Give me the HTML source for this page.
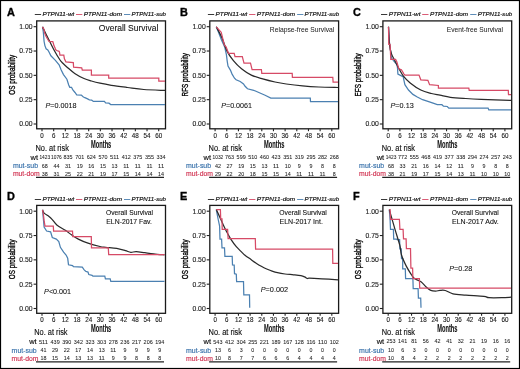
<!DOCTYPE html>
<html><head><meta charset="utf-8"><style>html,body{margin:0;padding:0;background:#fff;width:520px;height:369px;overflow:hidden}svg{display:block;will-change:transform}</style></head>
<body><svg width="520" height="369" viewBox="0 0 520 369" font-family='"Liberation Sans", sans-serif'><rect x="0.5" y="0.5" width="519" height="368" fill="none" stroke="#000" stroke-width="1.2"/>
<text x="6.90" y="15.60" font-size="10.90" fill="#000" font-weight="bold" font-style="normal" text-anchor="start" stroke="#000" stroke-width="0.35">A</text>
<line x1="34.80" y1="14.50" x2="41.10" y2="14.50" stroke="#222" stroke-width="0.9"/>
<text x="42.50" y="16.40" font-size="6.10" fill="#111" font-weight="normal" font-style="italic" text-anchor="start" textLength="31.70" lengthAdjust="spacingAndGlyphs" stroke="#111" stroke-width="0.18">PTPN11-wt</text>
<line x1="76.00" y1="14.50" x2="82.30" y2="14.50" stroke="#d64a66" stroke-width="0.9"/>
<text x="83.70" y="16.40" font-size="6.10" fill="#111" font-weight="normal" font-style="italic" text-anchor="start" textLength="38.30" lengthAdjust="spacingAndGlyphs" stroke="#111" stroke-width="0.18">PTPN11-dom</text>
<line x1="124.00" y1="14.50" x2="130.30" y2="14.50" stroke="#4b80b1" stroke-width="0.9"/>
<text x="131.50" y="16.40" font-size="6.10" fill="#111" font-weight="normal" font-style="italic" text-anchor="start" textLength="34.50" lengthAdjust="spacingAndGlyphs" stroke="#111" stroke-width="0.18">PTPN11-sub</text>
<rect x="36.70" y="20.90" width="128.80" height="107.90" fill="none" stroke="#1a1a1a" stroke-width="1.3"/>
<line x1="33.60" y1="26.70" x2="36.70" y2="26.70" stroke="#222" stroke-width="1.1"/>
<text x="19.30" y="29.05" font-size="6.70" fill="#1a1a1a" font-weight="normal" font-style="normal" text-anchor="start" textLength="13.30" lengthAdjust="spacingAndGlyphs" stroke="#1a1a1a" stroke-width="0.12">1.00</text>
<line x1="33.60" y1="51.02" x2="36.70" y2="51.02" stroke="#222" stroke-width="1.1"/>
<text x="19.30" y="53.38" font-size="6.70" fill="#1a1a1a" font-weight="normal" font-style="normal" text-anchor="start" textLength="13.30" lengthAdjust="spacingAndGlyphs" stroke="#1a1a1a" stroke-width="0.12">0.75</text>
<line x1="33.60" y1="75.35" x2="36.70" y2="75.35" stroke="#222" stroke-width="1.1"/>
<text x="19.30" y="77.70" font-size="6.70" fill="#1a1a1a" font-weight="normal" font-style="normal" text-anchor="start" textLength="13.30" lengthAdjust="spacingAndGlyphs" stroke="#1a1a1a" stroke-width="0.12">0.50</text>
<line x1="33.60" y1="99.67" x2="36.70" y2="99.67" stroke="#222" stroke-width="1.1"/>
<text x="19.30" y="102.02" font-size="6.70" fill="#1a1a1a" font-weight="normal" font-style="normal" text-anchor="start" textLength="13.30" lengthAdjust="spacingAndGlyphs" stroke="#1a1a1a" stroke-width="0.12">0.25</text>
<line x1="33.60" y1="124.00" x2="36.70" y2="124.00" stroke="#222" stroke-width="1.1"/>
<text x="19.30" y="126.35" font-size="6.70" fill="#1a1a1a" font-weight="normal" font-style="normal" text-anchor="start" textLength="13.30" lengthAdjust="spacingAndGlyphs" stroke="#1a1a1a" stroke-width="0.12">0.00</text>
<line x1="42.00" y1="128.80" x2="42.00" y2="131.20" stroke="#222" stroke-width="1.1"/>
<text x="40.27" y="137.80" font-size="6.70" fill="#1a1a1a" font-weight="normal" font-style="normal" text-anchor="start" textLength="3.45" lengthAdjust="spacingAndGlyphs" stroke="#1a1a1a" stroke-width="0.12">0</text>
<line x1="53.67" y1="128.80" x2="53.67" y2="131.20" stroke="#222" stroke-width="1.1"/>
<text x="51.95" y="137.80" font-size="6.70" fill="#1a1a1a" font-weight="normal" font-style="normal" text-anchor="start" textLength="3.45" lengthAdjust="spacingAndGlyphs" stroke="#1a1a1a" stroke-width="0.12">6</text>
<line x1="65.34" y1="128.80" x2="65.34" y2="131.20" stroke="#222" stroke-width="1.1"/>
<text x="61.84" y="137.80" font-size="6.70" fill="#1a1a1a" font-weight="normal" font-style="normal" text-anchor="start" textLength="7.00" lengthAdjust="spacingAndGlyphs" stroke="#1a1a1a" stroke-width="0.12">12</text>
<line x1="77.01" y1="128.80" x2="77.01" y2="131.20" stroke="#222" stroke-width="1.1"/>
<text x="73.51" y="137.80" font-size="6.70" fill="#1a1a1a" font-weight="normal" font-style="normal" text-anchor="start" textLength="7.00" lengthAdjust="spacingAndGlyphs" stroke="#1a1a1a" stroke-width="0.12">18</text>
<line x1="88.68" y1="128.80" x2="88.68" y2="131.20" stroke="#222" stroke-width="1.1"/>
<text x="85.18" y="137.80" font-size="6.70" fill="#1a1a1a" font-weight="normal" font-style="normal" text-anchor="start" textLength="7.00" lengthAdjust="spacingAndGlyphs" stroke="#1a1a1a" stroke-width="0.12">24</text>
<line x1="100.35" y1="128.80" x2="100.35" y2="131.20" stroke="#222" stroke-width="1.1"/>
<text x="96.85" y="137.80" font-size="6.70" fill="#1a1a1a" font-weight="normal" font-style="normal" text-anchor="start" textLength="7.00" lengthAdjust="spacingAndGlyphs" stroke="#1a1a1a" stroke-width="0.12">30</text>
<line x1="112.02" y1="128.80" x2="112.02" y2="131.20" stroke="#222" stroke-width="1.1"/>
<text x="108.52" y="137.80" font-size="6.70" fill="#1a1a1a" font-weight="normal" font-style="normal" text-anchor="start" textLength="7.00" lengthAdjust="spacingAndGlyphs" stroke="#1a1a1a" stroke-width="0.12">36</text>
<line x1="123.69" y1="128.80" x2="123.69" y2="131.20" stroke="#222" stroke-width="1.1"/>
<text x="120.19" y="137.80" font-size="6.70" fill="#1a1a1a" font-weight="normal" font-style="normal" text-anchor="start" textLength="7.00" lengthAdjust="spacingAndGlyphs" stroke="#1a1a1a" stroke-width="0.12">42</text>
<line x1="135.36" y1="128.80" x2="135.36" y2="131.20" stroke="#222" stroke-width="1.1"/>
<text x="131.86" y="137.80" font-size="6.70" fill="#1a1a1a" font-weight="normal" font-style="normal" text-anchor="start" textLength="7.00" lengthAdjust="spacingAndGlyphs" stroke="#1a1a1a" stroke-width="0.12">48</text>
<line x1="147.03" y1="128.80" x2="147.03" y2="131.20" stroke="#222" stroke-width="1.1"/>
<text x="143.53" y="137.80" font-size="6.70" fill="#1a1a1a" font-weight="normal" font-style="normal" text-anchor="start" textLength="7.00" lengthAdjust="spacingAndGlyphs" stroke="#1a1a1a" stroke-width="0.12">54</text>
<line x1="158.70" y1="128.80" x2="158.70" y2="131.20" stroke="#222" stroke-width="1.1"/>
<text x="155.20" y="137.80" font-size="6.70" fill="#1a1a1a" font-weight="normal" font-style="normal" text-anchor="start" textLength="7.00" lengthAdjust="spacingAndGlyphs" stroke="#1a1a1a" stroke-width="0.12">60</text>
<text x="91.00" y="147.50" font-size="10.40" fill="#111" font-weight="bold" font-style="normal" text-anchor="start" textLength="20.30" lengthAdjust="spacingAndGlyphs" stroke="#111" stroke-width="0.1">Months</text>
<text transform="translate(14.90,94.70) rotate(-90)" x="0" y="0" font-size="9.4" fill="#000" stroke="#000" stroke-width="0.36" textLength="39.80" lengthAdjust="spacingAndGlyphs">OS probability</text>
<text x="35.50" y="150.60" font-size="8.30" fill="#111" font-weight="normal" font-style="normal" text-anchor="start" textLength="33.40" lengthAdjust="spacingAndGlyphs" stroke="#111" stroke-width="0.14">No. at risk</text>
<text x="30.50" y="159.80" font-size="7.00" fill="#111" font-weight="normal" font-style="normal" text-anchor="start" textLength="7.50" lengthAdjust="spacingAndGlyphs" stroke="#111" stroke-width="0.14">wt</text>
<text x="12.90" y="168.00" font-size="7.10" fill="#356fa9" font-weight="normal" font-style="normal" text-anchor="start" textLength="25.10" lengthAdjust="spacingAndGlyphs" stroke="#356fa9" stroke-width="0.15">mut-sub</text>
<text x="12.90" y="176.00" font-size="7.10" fill="#d0304f" font-weight="normal" font-style="normal" text-anchor="start" textLength="26.90" lengthAdjust="spacingAndGlyphs" stroke="#d0304f" stroke-width="0.15">mut-dom</text>
<line x1="36.00" y1="177.40" x2="164.00" y2="177.40" stroke="#222" stroke-width="1.2"/>
<text x="39.45" y="159.40" font-size="5.30" fill="#222" font-weight="normal" font-style="normal" text-anchor="start" textLength="10.70" lengthAdjust="spacingAndGlyphs" stroke="#222" stroke-width="0.06">1423</text>
<text x="51.08" y="159.40" font-size="5.30" fill="#222" font-weight="normal" font-style="normal" text-anchor="start" textLength="10.70" lengthAdjust="spacingAndGlyphs" stroke="#222" stroke-width="0.06">1076</text>
<text x="63.54" y="159.40" font-size="5.30" fill="#222" font-weight="normal" font-style="normal" text-anchor="start" textLength="9.05" lengthAdjust="spacingAndGlyphs" stroke="#222" stroke-width="0.06">835</text>
<text x="75.16" y="159.40" font-size="5.30" fill="#222" font-weight="normal" font-style="normal" text-anchor="start" textLength="9.05" lengthAdjust="spacingAndGlyphs" stroke="#222" stroke-width="0.06">701</text>
<text x="86.79" y="159.40" font-size="5.30" fill="#222" font-weight="normal" font-style="normal" text-anchor="start" textLength="9.05" lengthAdjust="spacingAndGlyphs" stroke="#222" stroke-width="0.06">624</text>
<text x="98.42" y="159.40" font-size="5.30" fill="#222" font-weight="normal" font-style="normal" text-anchor="start" textLength="9.05" lengthAdjust="spacingAndGlyphs" stroke="#222" stroke-width="0.06">570</text>
<text x="110.05" y="159.40" font-size="5.30" fill="#222" font-weight="normal" font-style="normal" text-anchor="start" textLength="9.05" lengthAdjust="spacingAndGlyphs" stroke="#222" stroke-width="0.06">511</text>
<text x="121.69" y="159.40" font-size="5.30" fill="#222" font-weight="normal" font-style="normal" text-anchor="start" textLength="9.05" lengthAdjust="spacingAndGlyphs" stroke="#222" stroke-width="0.06">412</text>
<text x="133.31" y="159.40" font-size="5.30" fill="#222" font-weight="normal" font-style="normal" text-anchor="start" textLength="9.05" lengthAdjust="spacingAndGlyphs" stroke="#222" stroke-width="0.06">375</text>
<text x="144.94" y="159.40" font-size="5.30" fill="#222" font-weight="normal" font-style="normal" text-anchor="start" textLength="9.05" lengthAdjust="spacingAndGlyphs" stroke="#222" stroke-width="0.06">355</text>
<text x="156.58" y="159.40" font-size="5.30" fill="#222" font-weight="normal" font-style="normal" text-anchor="start" textLength="9.05" lengthAdjust="spacingAndGlyphs" stroke="#222" stroke-width="0.06">334</text>
<text x="41.80" y="167.90" font-size="5.30" fill="#222" font-weight="normal" font-style="normal" text-anchor="start" textLength="6.00" lengthAdjust="spacingAndGlyphs" stroke="#222" stroke-width="0.06">68</text>
<text x="53.43" y="167.90" font-size="5.30" fill="#222" font-weight="normal" font-style="normal" text-anchor="start" textLength="6.00" lengthAdjust="spacingAndGlyphs" stroke="#222" stroke-width="0.06">44</text>
<text x="65.06" y="167.90" font-size="5.30" fill="#222" font-weight="normal" font-style="normal" text-anchor="start" textLength="6.00" lengthAdjust="spacingAndGlyphs" stroke="#222" stroke-width="0.06">31</text>
<text x="76.69" y="167.90" font-size="5.30" fill="#222" font-weight="normal" font-style="normal" text-anchor="start" textLength="6.00" lengthAdjust="spacingAndGlyphs" stroke="#222" stroke-width="0.06">19</text>
<text x="88.32" y="167.90" font-size="5.30" fill="#222" font-weight="normal" font-style="normal" text-anchor="start" textLength="6.00" lengthAdjust="spacingAndGlyphs" stroke="#222" stroke-width="0.06">16</text>
<text x="99.95" y="167.90" font-size="5.30" fill="#222" font-weight="normal" font-style="normal" text-anchor="start" textLength="6.00" lengthAdjust="spacingAndGlyphs" stroke="#222" stroke-width="0.06">15</text>
<text x="111.58" y="167.90" font-size="5.30" fill="#222" font-weight="normal" font-style="normal" text-anchor="start" textLength="6.00" lengthAdjust="spacingAndGlyphs" stroke="#222" stroke-width="0.06">13</text>
<text x="123.21" y="167.90" font-size="5.30" fill="#222" font-weight="normal" font-style="normal" text-anchor="start" textLength="6.00" lengthAdjust="spacingAndGlyphs" stroke="#222" stroke-width="0.06">11</text>
<text x="134.84" y="167.90" font-size="5.30" fill="#222" font-weight="normal" font-style="normal" text-anchor="start" textLength="6.00" lengthAdjust="spacingAndGlyphs" stroke="#222" stroke-width="0.06">11</text>
<text x="146.47" y="167.90" font-size="5.30" fill="#222" font-weight="normal" font-style="normal" text-anchor="start" textLength="6.00" lengthAdjust="spacingAndGlyphs" stroke="#222" stroke-width="0.06">11</text>
<text x="158.10" y="167.90" font-size="5.30" fill="#222" font-weight="normal" font-style="normal" text-anchor="start" textLength="6.00" lengthAdjust="spacingAndGlyphs" stroke="#222" stroke-width="0.06">11</text>
<text x="41.80" y="175.70" font-size="5.30" fill="#222" font-weight="normal" font-style="normal" text-anchor="start" textLength="6.00" lengthAdjust="spacingAndGlyphs" stroke="#222" stroke-width="0.06">38</text>
<text x="53.43" y="175.70" font-size="5.30" fill="#222" font-weight="normal" font-style="normal" text-anchor="start" textLength="6.00" lengthAdjust="spacingAndGlyphs" stroke="#222" stroke-width="0.06">31</text>
<text x="65.06" y="175.70" font-size="5.30" fill="#222" font-weight="normal" font-style="normal" text-anchor="start" textLength="6.00" lengthAdjust="spacingAndGlyphs" stroke="#222" stroke-width="0.06">25</text>
<text x="76.69" y="175.70" font-size="5.30" fill="#222" font-weight="normal" font-style="normal" text-anchor="start" textLength="6.00" lengthAdjust="spacingAndGlyphs" stroke="#222" stroke-width="0.06">22</text>
<text x="88.32" y="175.70" font-size="5.30" fill="#222" font-weight="normal" font-style="normal" text-anchor="start" textLength="6.00" lengthAdjust="spacingAndGlyphs" stroke="#222" stroke-width="0.06">21</text>
<text x="99.95" y="175.70" font-size="5.30" fill="#222" font-weight="normal" font-style="normal" text-anchor="start" textLength="6.00" lengthAdjust="spacingAndGlyphs" stroke="#222" stroke-width="0.06">19</text>
<text x="111.58" y="175.70" font-size="5.30" fill="#222" font-weight="normal" font-style="normal" text-anchor="start" textLength="6.00" lengthAdjust="spacingAndGlyphs" stroke="#222" stroke-width="0.06">17</text>
<text x="123.21" y="175.70" font-size="5.30" fill="#222" font-weight="normal" font-style="normal" text-anchor="start" textLength="6.00" lengthAdjust="spacingAndGlyphs" stroke="#222" stroke-width="0.06">15</text>
<text x="134.84" y="175.70" font-size="5.30" fill="#222" font-weight="normal" font-style="normal" text-anchor="start" textLength="6.00" lengthAdjust="spacingAndGlyphs" stroke="#222" stroke-width="0.06">14</text>
<text x="146.47" y="175.70" font-size="5.30" fill="#222" font-weight="normal" font-style="normal" text-anchor="start" textLength="6.00" lengthAdjust="spacingAndGlyphs" stroke="#222" stroke-width="0.06">14</text>
<text x="158.10" y="175.70" font-size="5.30" fill="#222" font-weight="normal" font-style="normal" text-anchor="start" textLength="6.00" lengthAdjust="spacingAndGlyphs" stroke="#222" stroke-width="0.06">14</text>
<text x="180.00" y="15.60" font-size="10.90" fill="#000" font-weight="bold" font-style="normal" text-anchor="start" stroke="#000" stroke-width="0.35">B</text>
<line x1="207.90" y1="14.50" x2="214.20" y2="14.50" stroke="#222" stroke-width="0.9"/>
<text x="215.60" y="16.40" font-size="6.10" fill="#111" font-weight="normal" font-style="italic" text-anchor="start" textLength="31.70" lengthAdjust="spacingAndGlyphs" stroke="#111" stroke-width="0.18">PTPN11-wt</text>
<line x1="249.10" y1="14.50" x2="255.40" y2="14.50" stroke="#d64a66" stroke-width="0.9"/>
<text x="256.80" y="16.40" font-size="6.10" fill="#111" font-weight="normal" font-style="italic" text-anchor="start" textLength="38.30" lengthAdjust="spacingAndGlyphs" stroke="#111" stroke-width="0.18">PTPN11-dom</text>
<line x1="297.10" y1="14.50" x2="303.40" y2="14.50" stroke="#4b80b1" stroke-width="0.9"/>
<text x="304.60" y="16.40" font-size="6.10" fill="#111" font-weight="normal" font-style="italic" text-anchor="start" textLength="34.50" lengthAdjust="spacingAndGlyphs" stroke="#111" stroke-width="0.18">PTPN11-sub</text>
<rect x="209.80" y="20.90" width="128.80" height="107.90" fill="none" stroke="#1a1a1a" stroke-width="1.3"/>
<line x1="206.70" y1="26.70" x2="209.80" y2="26.70" stroke="#222" stroke-width="1.1"/>
<text x="192.40" y="29.05" font-size="6.70" fill="#1a1a1a" font-weight="normal" font-style="normal" text-anchor="start" textLength="13.30" lengthAdjust="spacingAndGlyphs" stroke="#1a1a1a" stroke-width="0.12">1.00</text>
<line x1="206.70" y1="51.02" x2="209.80" y2="51.02" stroke="#222" stroke-width="1.1"/>
<text x="192.40" y="53.38" font-size="6.70" fill="#1a1a1a" font-weight="normal" font-style="normal" text-anchor="start" textLength="13.30" lengthAdjust="spacingAndGlyphs" stroke="#1a1a1a" stroke-width="0.12">0.75</text>
<line x1="206.70" y1="75.35" x2="209.80" y2="75.35" stroke="#222" stroke-width="1.1"/>
<text x="192.40" y="77.70" font-size="6.70" fill="#1a1a1a" font-weight="normal" font-style="normal" text-anchor="start" textLength="13.30" lengthAdjust="spacingAndGlyphs" stroke="#1a1a1a" stroke-width="0.12">0.50</text>
<line x1="206.70" y1="99.67" x2="209.80" y2="99.67" stroke="#222" stroke-width="1.1"/>
<text x="192.40" y="102.02" font-size="6.70" fill="#1a1a1a" font-weight="normal" font-style="normal" text-anchor="start" textLength="13.30" lengthAdjust="spacingAndGlyphs" stroke="#1a1a1a" stroke-width="0.12">0.25</text>
<line x1="206.70" y1="124.00" x2="209.80" y2="124.00" stroke="#222" stroke-width="1.1"/>
<text x="192.40" y="126.35" font-size="6.70" fill="#1a1a1a" font-weight="normal" font-style="normal" text-anchor="start" textLength="13.30" lengthAdjust="spacingAndGlyphs" stroke="#1a1a1a" stroke-width="0.12">0.00</text>
<line x1="215.10" y1="128.80" x2="215.10" y2="131.20" stroke="#222" stroke-width="1.1"/>
<text x="213.38" y="137.80" font-size="6.70" fill="#1a1a1a" font-weight="normal" font-style="normal" text-anchor="start" textLength="3.45" lengthAdjust="spacingAndGlyphs" stroke="#1a1a1a" stroke-width="0.12">0</text>
<line x1="226.77" y1="128.80" x2="226.77" y2="131.20" stroke="#222" stroke-width="1.1"/>
<text x="225.04" y="137.80" font-size="6.70" fill="#1a1a1a" font-weight="normal" font-style="normal" text-anchor="start" textLength="3.45" lengthAdjust="spacingAndGlyphs" stroke="#1a1a1a" stroke-width="0.12">6</text>
<line x1="238.44" y1="128.80" x2="238.44" y2="131.20" stroke="#222" stroke-width="1.1"/>
<text x="234.94" y="137.80" font-size="6.70" fill="#1a1a1a" font-weight="normal" font-style="normal" text-anchor="start" textLength="7.00" lengthAdjust="spacingAndGlyphs" stroke="#1a1a1a" stroke-width="0.12">12</text>
<line x1="250.11" y1="128.80" x2="250.11" y2="131.20" stroke="#222" stroke-width="1.1"/>
<text x="246.61" y="137.80" font-size="6.70" fill="#1a1a1a" font-weight="normal" font-style="normal" text-anchor="start" textLength="7.00" lengthAdjust="spacingAndGlyphs" stroke="#1a1a1a" stroke-width="0.12">18</text>
<line x1="261.78" y1="128.80" x2="261.78" y2="131.20" stroke="#222" stroke-width="1.1"/>
<text x="258.28" y="137.80" font-size="6.70" fill="#1a1a1a" font-weight="normal" font-style="normal" text-anchor="start" textLength="7.00" lengthAdjust="spacingAndGlyphs" stroke="#1a1a1a" stroke-width="0.12">24</text>
<line x1="273.45" y1="128.80" x2="273.45" y2="131.20" stroke="#222" stroke-width="1.1"/>
<text x="269.95" y="137.80" font-size="6.70" fill="#1a1a1a" font-weight="normal" font-style="normal" text-anchor="start" textLength="7.00" lengthAdjust="spacingAndGlyphs" stroke="#1a1a1a" stroke-width="0.12">30</text>
<line x1="285.12" y1="128.80" x2="285.12" y2="131.20" stroke="#222" stroke-width="1.1"/>
<text x="281.62" y="137.80" font-size="6.70" fill="#1a1a1a" font-weight="normal" font-style="normal" text-anchor="start" textLength="7.00" lengthAdjust="spacingAndGlyphs" stroke="#1a1a1a" stroke-width="0.12">36</text>
<line x1="296.79" y1="128.80" x2="296.79" y2="131.20" stroke="#222" stroke-width="1.1"/>
<text x="293.29" y="137.80" font-size="6.70" fill="#1a1a1a" font-weight="normal" font-style="normal" text-anchor="start" textLength="7.00" lengthAdjust="spacingAndGlyphs" stroke="#1a1a1a" stroke-width="0.12">42</text>
<line x1="308.46" y1="128.80" x2="308.46" y2="131.20" stroke="#222" stroke-width="1.1"/>
<text x="304.96" y="137.80" font-size="6.70" fill="#1a1a1a" font-weight="normal" font-style="normal" text-anchor="start" textLength="7.00" lengthAdjust="spacingAndGlyphs" stroke="#1a1a1a" stroke-width="0.12">48</text>
<line x1="320.13" y1="128.80" x2="320.13" y2="131.20" stroke="#222" stroke-width="1.1"/>
<text x="316.63" y="137.80" font-size="6.70" fill="#1a1a1a" font-weight="normal" font-style="normal" text-anchor="start" textLength="7.00" lengthAdjust="spacingAndGlyphs" stroke="#1a1a1a" stroke-width="0.12">54</text>
<line x1="331.80" y1="128.80" x2="331.80" y2="131.20" stroke="#222" stroke-width="1.1"/>
<text x="328.30" y="137.80" font-size="6.70" fill="#1a1a1a" font-weight="normal" font-style="normal" text-anchor="start" textLength="7.00" lengthAdjust="spacingAndGlyphs" stroke="#1a1a1a" stroke-width="0.12">60</text>
<text x="264.10" y="147.50" font-size="10.40" fill="#111" font-weight="bold" font-style="normal" text-anchor="start" textLength="20.30" lengthAdjust="spacingAndGlyphs" stroke="#111" stroke-width="0.1">Months</text>
<text transform="translate(188.00,96.40) rotate(-90)" x="0" y="0" font-size="9.4" fill="#000" stroke="#000" stroke-width="0.36" textLength="43.20" lengthAdjust="spacingAndGlyphs">RFS probability</text>
<text x="208.60" y="150.60" font-size="8.30" fill="#111" font-weight="normal" font-style="normal" text-anchor="start" textLength="33.40" lengthAdjust="spacingAndGlyphs" stroke="#111" stroke-width="0.14">No. at risk</text>
<text x="203.60" y="159.80" font-size="7.00" fill="#111" font-weight="normal" font-style="normal" text-anchor="start" textLength="7.50" lengthAdjust="spacingAndGlyphs" stroke="#111" stroke-width="0.14">wt</text>
<text x="186.00" y="168.00" font-size="7.10" fill="#356fa9" font-weight="normal" font-style="normal" text-anchor="start" textLength="25.10" lengthAdjust="spacingAndGlyphs" stroke="#356fa9" stroke-width="0.15">mut-sub</text>
<text x="186.00" y="176.00" font-size="7.10" fill="#d0304f" font-weight="normal" font-style="normal" text-anchor="start" textLength="26.90" lengthAdjust="spacingAndGlyphs" stroke="#d0304f" stroke-width="0.15">mut-dom</text>
<line x1="209.10" y1="177.40" x2="337.10" y2="177.40" stroke="#222" stroke-width="1.2"/>
<text x="212.55" y="159.40" font-size="5.30" fill="#222" font-weight="normal" font-style="normal" text-anchor="start" textLength="10.70" lengthAdjust="spacingAndGlyphs" stroke="#222" stroke-width="0.06">1032</text>
<text x="225.00" y="159.40" font-size="5.30" fill="#222" font-weight="normal" font-style="normal" text-anchor="start" textLength="9.05" lengthAdjust="spacingAndGlyphs" stroke="#222" stroke-width="0.06">763</text>
<text x="236.63" y="159.40" font-size="5.30" fill="#222" font-weight="normal" font-style="normal" text-anchor="start" textLength="9.05" lengthAdjust="spacingAndGlyphs" stroke="#222" stroke-width="0.06">599</text>
<text x="248.26" y="159.40" font-size="5.30" fill="#222" font-weight="normal" font-style="normal" text-anchor="start" textLength="9.05" lengthAdjust="spacingAndGlyphs" stroke="#222" stroke-width="0.06">510</text>
<text x="259.89" y="159.40" font-size="5.30" fill="#222" font-weight="normal" font-style="normal" text-anchor="start" textLength="9.05" lengthAdjust="spacingAndGlyphs" stroke="#222" stroke-width="0.06">460</text>
<text x="271.53" y="159.40" font-size="5.30" fill="#222" font-weight="normal" font-style="normal" text-anchor="start" textLength="9.05" lengthAdjust="spacingAndGlyphs" stroke="#222" stroke-width="0.06">423</text>
<text x="283.16" y="159.40" font-size="5.30" fill="#222" font-weight="normal" font-style="normal" text-anchor="start" textLength="9.05" lengthAdjust="spacingAndGlyphs" stroke="#222" stroke-width="0.06">351</text>
<text x="294.79" y="159.40" font-size="5.30" fill="#222" font-weight="normal" font-style="normal" text-anchor="start" textLength="9.05" lengthAdjust="spacingAndGlyphs" stroke="#222" stroke-width="0.06">319</text>
<text x="306.42" y="159.40" font-size="5.30" fill="#222" font-weight="normal" font-style="normal" text-anchor="start" textLength="9.05" lengthAdjust="spacingAndGlyphs" stroke="#222" stroke-width="0.06">295</text>
<text x="318.05" y="159.40" font-size="5.30" fill="#222" font-weight="normal" font-style="normal" text-anchor="start" textLength="9.05" lengthAdjust="spacingAndGlyphs" stroke="#222" stroke-width="0.06">282</text>
<text x="329.68" y="159.40" font-size="5.30" fill="#222" font-weight="normal" font-style="normal" text-anchor="start" textLength="9.05" lengthAdjust="spacingAndGlyphs" stroke="#222" stroke-width="0.06">268</text>
<text x="214.90" y="167.90" font-size="5.30" fill="#222" font-weight="normal" font-style="normal" text-anchor="start" textLength="6.00" lengthAdjust="spacingAndGlyphs" stroke="#222" stroke-width="0.06">42</text>
<text x="226.53" y="167.90" font-size="5.30" fill="#222" font-weight="normal" font-style="normal" text-anchor="start" textLength="6.00" lengthAdjust="spacingAndGlyphs" stroke="#222" stroke-width="0.06">27</text>
<text x="238.16" y="167.90" font-size="5.30" fill="#222" font-weight="normal" font-style="normal" text-anchor="start" textLength="6.00" lengthAdjust="spacingAndGlyphs" stroke="#222" stroke-width="0.06">19</text>
<text x="249.79" y="167.90" font-size="5.30" fill="#222" font-weight="normal" font-style="normal" text-anchor="start" textLength="6.00" lengthAdjust="spacingAndGlyphs" stroke="#222" stroke-width="0.06">15</text>
<text x="261.42" y="167.90" font-size="5.30" fill="#222" font-weight="normal" font-style="normal" text-anchor="start" textLength="6.00" lengthAdjust="spacingAndGlyphs" stroke="#222" stroke-width="0.06">13</text>
<text x="273.05" y="167.90" font-size="5.30" fill="#222" font-weight="normal" font-style="normal" text-anchor="start" textLength="6.00" lengthAdjust="spacingAndGlyphs" stroke="#222" stroke-width="0.06">11</text>
<text x="284.68" y="167.90" font-size="5.30" fill="#222" font-weight="normal" font-style="normal" text-anchor="start" textLength="6.00" lengthAdjust="spacingAndGlyphs" stroke="#222" stroke-width="0.06">10</text>
<text x="297.83" y="167.90" font-size="5.30" fill="#222" font-weight="normal" font-style="normal" text-anchor="start" textLength="2.95" lengthAdjust="spacingAndGlyphs" stroke="#222" stroke-width="0.06">9</text>
<text x="309.46" y="167.90" font-size="5.30" fill="#222" font-weight="normal" font-style="normal" text-anchor="start" textLength="2.95" lengthAdjust="spacingAndGlyphs" stroke="#222" stroke-width="0.06">9</text>
<text x="321.09" y="167.90" font-size="5.30" fill="#222" font-weight="normal" font-style="normal" text-anchor="start" textLength="2.95" lengthAdjust="spacingAndGlyphs" stroke="#222" stroke-width="0.06">8</text>
<text x="332.73" y="167.90" font-size="5.30" fill="#222" font-weight="normal" font-style="normal" text-anchor="start" textLength="2.95" lengthAdjust="spacingAndGlyphs" stroke="#222" stroke-width="0.06">8</text>
<text x="214.90" y="175.70" font-size="5.30" fill="#222" font-weight="normal" font-style="normal" text-anchor="start" textLength="6.00" lengthAdjust="spacingAndGlyphs" stroke="#222" stroke-width="0.06">29</text>
<text x="226.53" y="175.70" font-size="5.30" fill="#222" font-weight="normal" font-style="normal" text-anchor="start" textLength="6.00" lengthAdjust="spacingAndGlyphs" stroke="#222" stroke-width="0.06">22</text>
<text x="238.16" y="175.70" font-size="5.30" fill="#222" font-weight="normal" font-style="normal" text-anchor="start" textLength="6.00" lengthAdjust="spacingAndGlyphs" stroke="#222" stroke-width="0.06">20</text>
<text x="249.79" y="175.70" font-size="5.30" fill="#222" font-weight="normal" font-style="normal" text-anchor="start" textLength="6.00" lengthAdjust="spacingAndGlyphs" stroke="#222" stroke-width="0.06">18</text>
<text x="261.42" y="175.70" font-size="5.30" fill="#222" font-weight="normal" font-style="normal" text-anchor="start" textLength="6.00" lengthAdjust="spacingAndGlyphs" stroke="#222" stroke-width="0.06">15</text>
<text x="273.05" y="175.70" font-size="5.30" fill="#222" font-weight="normal" font-style="normal" text-anchor="start" textLength="6.00" lengthAdjust="spacingAndGlyphs" stroke="#222" stroke-width="0.06">15</text>
<text x="284.68" y="175.70" font-size="5.30" fill="#222" font-weight="normal" font-style="normal" text-anchor="start" textLength="6.00" lengthAdjust="spacingAndGlyphs" stroke="#222" stroke-width="0.06">14</text>
<text x="296.31" y="175.70" font-size="5.30" fill="#222" font-weight="normal" font-style="normal" text-anchor="start" textLength="6.00" lengthAdjust="spacingAndGlyphs" stroke="#222" stroke-width="0.06">11</text>
<text x="307.94" y="175.70" font-size="5.30" fill="#222" font-weight="normal" font-style="normal" text-anchor="start" textLength="6.00" lengthAdjust="spacingAndGlyphs" stroke="#222" stroke-width="0.06">11</text>
<text x="319.57" y="175.70" font-size="5.30" fill="#222" font-weight="normal" font-style="normal" text-anchor="start" textLength="6.00" lengthAdjust="spacingAndGlyphs" stroke="#222" stroke-width="0.06">11</text>
<text x="332.73" y="175.70" font-size="5.30" fill="#222" font-weight="normal" font-style="normal" text-anchor="start" textLength="2.95" lengthAdjust="spacingAndGlyphs" stroke="#222" stroke-width="0.06">8</text>
<text x="353.10" y="15.60" font-size="10.90" fill="#000" font-weight="bold" font-style="normal" text-anchor="start" stroke="#000" stroke-width="0.35">C</text>
<line x1="381.00" y1="14.50" x2="387.30" y2="14.50" stroke="#222" stroke-width="0.9"/>
<text x="388.70" y="16.40" font-size="6.10" fill="#111" font-weight="normal" font-style="italic" text-anchor="start" textLength="31.70" lengthAdjust="spacingAndGlyphs" stroke="#111" stroke-width="0.18">PTPN11-wt</text>
<line x1="422.20" y1="14.50" x2="428.50" y2="14.50" stroke="#d64a66" stroke-width="0.9"/>
<text x="429.90" y="16.40" font-size="6.10" fill="#111" font-weight="normal" font-style="italic" text-anchor="start" textLength="38.30" lengthAdjust="spacingAndGlyphs" stroke="#111" stroke-width="0.18">PTPN11-dom</text>
<line x1="470.20" y1="14.50" x2="476.50" y2="14.50" stroke="#4b80b1" stroke-width="0.9"/>
<text x="477.70" y="16.40" font-size="6.10" fill="#111" font-weight="normal" font-style="italic" text-anchor="start" textLength="34.50" lengthAdjust="spacingAndGlyphs" stroke="#111" stroke-width="0.18">PTPN11-sub</text>
<rect x="382.90" y="20.90" width="128.80" height="107.90" fill="none" stroke="#1a1a1a" stroke-width="1.3"/>
<line x1="379.80" y1="26.70" x2="382.90" y2="26.70" stroke="#222" stroke-width="1.1"/>
<text x="365.50" y="29.05" font-size="6.70" fill="#1a1a1a" font-weight="normal" font-style="normal" text-anchor="start" textLength="13.30" lengthAdjust="spacingAndGlyphs" stroke="#1a1a1a" stroke-width="0.12">1.00</text>
<line x1="379.80" y1="51.02" x2="382.90" y2="51.02" stroke="#222" stroke-width="1.1"/>
<text x="365.50" y="53.38" font-size="6.70" fill="#1a1a1a" font-weight="normal" font-style="normal" text-anchor="start" textLength="13.30" lengthAdjust="spacingAndGlyphs" stroke="#1a1a1a" stroke-width="0.12">0.75</text>
<line x1="379.80" y1="75.35" x2="382.90" y2="75.35" stroke="#222" stroke-width="1.1"/>
<text x="365.50" y="77.70" font-size="6.70" fill="#1a1a1a" font-weight="normal" font-style="normal" text-anchor="start" textLength="13.30" lengthAdjust="spacingAndGlyphs" stroke="#1a1a1a" stroke-width="0.12">0.50</text>
<line x1="379.80" y1="99.67" x2="382.90" y2="99.67" stroke="#222" stroke-width="1.1"/>
<text x="365.50" y="102.02" font-size="6.70" fill="#1a1a1a" font-weight="normal" font-style="normal" text-anchor="start" textLength="13.30" lengthAdjust="spacingAndGlyphs" stroke="#1a1a1a" stroke-width="0.12">0.25</text>
<line x1="379.80" y1="124.00" x2="382.90" y2="124.00" stroke="#222" stroke-width="1.1"/>
<text x="365.50" y="126.35" font-size="6.70" fill="#1a1a1a" font-weight="normal" font-style="normal" text-anchor="start" textLength="13.30" lengthAdjust="spacingAndGlyphs" stroke="#1a1a1a" stroke-width="0.12">0.00</text>
<line x1="388.20" y1="128.80" x2="388.20" y2="131.20" stroke="#222" stroke-width="1.1"/>
<text x="386.47" y="137.80" font-size="6.70" fill="#1a1a1a" font-weight="normal" font-style="normal" text-anchor="start" textLength="3.45" lengthAdjust="spacingAndGlyphs" stroke="#1a1a1a" stroke-width="0.12">0</text>
<line x1="399.87" y1="128.80" x2="399.87" y2="131.20" stroke="#222" stroke-width="1.1"/>
<text x="398.14" y="137.80" font-size="6.70" fill="#1a1a1a" font-weight="normal" font-style="normal" text-anchor="start" textLength="3.45" lengthAdjust="spacingAndGlyphs" stroke="#1a1a1a" stroke-width="0.12">6</text>
<line x1="411.54" y1="128.80" x2="411.54" y2="131.20" stroke="#222" stroke-width="1.1"/>
<text x="408.04" y="137.80" font-size="6.70" fill="#1a1a1a" font-weight="normal" font-style="normal" text-anchor="start" textLength="7.00" lengthAdjust="spacingAndGlyphs" stroke="#1a1a1a" stroke-width="0.12">12</text>
<line x1="423.21" y1="128.80" x2="423.21" y2="131.20" stroke="#222" stroke-width="1.1"/>
<text x="419.71" y="137.80" font-size="6.70" fill="#1a1a1a" font-weight="normal" font-style="normal" text-anchor="start" textLength="7.00" lengthAdjust="spacingAndGlyphs" stroke="#1a1a1a" stroke-width="0.12">18</text>
<line x1="434.88" y1="128.80" x2="434.88" y2="131.20" stroke="#222" stroke-width="1.1"/>
<text x="431.38" y="137.80" font-size="6.70" fill="#1a1a1a" font-weight="normal" font-style="normal" text-anchor="start" textLength="7.00" lengthAdjust="spacingAndGlyphs" stroke="#1a1a1a" stroke-width="0.12">24</text>
<line x1="446.55" y1="128.80" x2="446.55" y2="131.20" stroke="#222" stroke-width="1.1"/>
<text x="443.05" y="137.80" font-size="6.70" fill="#1a1a1a" font-weight="normal" font-style="normal" text-anchor="start" textLength="7.00" lengthAdjust="spacingAndGlyphs" stroke="#1a1a1a" stroke-width="0.12">30</text>
<line x1="458.22" y1="128.80" x2="458.22" y2="131.20" stroke="#222" stroke-width="1.1"/>
<text x="454.72" y="137.80" font-size="6.70" fill="#1a1a1a" font-weight="normal" font-style="normal" text-anchor="start" textLength="7.00" lengthAdjust="spacingAndGlyphs" stroke="#1a1a1a" stroke-width="0.12">36</text>
<line x1="469.89" y1="128.80" x2="469.89" y2="131.20" stroke="#222" stroke-width="1.1"/>
<text x="466.39" y="137.80" font-size="6.70" fill="#1a1a1a" font-weight="normal" font-style="normal" text-anchor="start" textLength="7.00" lengthAdjust="spacingAndGlyphs" stroke="#1a1a1a" stroke-width="0.12">42</text>
<line x1="481.56" y1="128.80" x2="481.56" y2="131.20" stroke="#222" stroke-width="1.1"/>
<text x="478.06" y="137.80" font-size="6.70" fill="#1a1a1a" font-weight="normal" font-style="normal" text-anchor="start" textLength="7.00" lengthAdjust="spacingAndGlyphs" stroke="#1a1a1a" stroke-width="0.12">48</text>
<line x1="493.23" y1="128.80" x2="493.23" y2="131.20" stroke="#222" stroke-width="1.1"/>
<text x="489.73" y="137.80" font-size="6.70" fill="#1a1a1a" font-weight="normal" font-style="normal" text-anchor="start" textLength="7.00" lengthAdjust="spacingAndGlyphs" stroke="#1a1a1a" stroke-width="0.12">54</text>
<line x1="504.90" y1="128.80" x2="504.90" y2="131.20" stroke="#222" stroke-width="1.1"/>
<text x="501.40" y="137.80" font-size="6.70" fill="#1a1a1a" font-weight="normal" font-style="normal" text-anchor="start" textLength="7.00" lengthAdjust="spacingAndGlyphs" stroke="#1a1a1a" stroke-width="0.12">60</text>
<text x="437.20" y="147.50" font-size="10.40" fill="#111" font-weight="bold" font-style="normal" text-anchor="start" textLength="20.30" lengthAdjust="spacingAndGlyphs" stroke="#111" stroke-width="0.1">Months</text>
<text transform="translate(361.10,96.40) rotate(-90)" x="0" y="0" font-size="9.4" fill="#000" stroke="#000" stroke-width="0.36" textLength="43.20" lengthAdjust="spacingAndGlyphs">EFS probability</text>
<text x="381.70" y="150.60" font-size="8.30" fill="#111" font-weight="normal" font-style="normal" text-anchor="start" textLength="33.40" lengthAdjust="spacingAndGlyphs" stroke="#111" stroke-width="0.14">No. at risk</text>
<text x="376.70" y="159.80" font-size="7.00" fill="#111" font-weight="normal" font-style="normal" text-anchor="start" textLength="7.50" lengthAdjust="spacingAndGlyphs" stroke="#111" stroke-width="0.14">wt</text>
<text x="359.10" y="168.00" font-size="7.10" fill="#356fa9" font-weight="normal" font-style="normal" text-anchor="start" textLength="25.10" lengthAdjust="spacingAndGlyphs" stroke="#356fa9" stroke-width="0.15">mut-sub</text>
<text x="359.10" y="176.00" font-size="7.10" fill="#d0304f" font-weight="normal" font-style="normal" text-anchor="start" textLength="26.90" lengthAdjust="spacingAndGlyphs" stroke="#d0304f" stroke-width="0.15">mut-dom</text>
<line x1="382.20" y1="177.40" x2="510.20" y2="177.40" stroke="#222" stroke-width="1.2"/>
<text x="385.65" y="159.40" font-size="5.30" fill="#222" font-weight="normal" font-style="normal" text-anchor="start" textLength="10.70" lengthAdjust="spacingAndGlyphs" stroke="#222" stroke-width="0.06">1423</text>
<text x="398.11" y="159.40" font-size="5.30" fill="#222" font-weight="normal" font-style="normal" text-anchor="start" textLength="9.05" lengthAdjust="spacingAndGlyphs" stroke="#222" stroke-width="0.06">772</text>
<text x="409.74" y="159.40" font-size="5.30" fill="#222" font-weight="normal" font-style="normal" text-anchor="start" textLength="9.05" lengthAdjust="spacingAndGlyphs" stroke="#222" stroke-width="0.06">555</text>
<text x="421.37" y="159.40" font-size="5.30" fill="#222" font-weight="normal" font-style="normal" text-anchor="start" textLength="9.05" lengthAdjust="spacingAndGlyphs" stroke="#222" stroke-width="0.06">468</text>
<text x="433.00" y="159.40" font-size="5.30" fill="#222" font-weight="normal" font-style="normal" text-anchor="start" textLength="9.05" lengthAdjust="spacingAndGlyphs" stroke="#222" stroke-width="0.06">419</text>
<text x="444.62" y="159.40" font-size="5.30" fill="#222" font-weight="normal" font-style="normal" text-anchor="start" textLength="9.05" lengthAdjust="spacingAndGlyphs" stroke="#222" stroke-width="0.06">377</text>
<text x="456.25" y="159.40" font-size="5.30" fill="#222" font-weight="normal" font-style="normal" text-anchor="start" textLength="9.05" lengthAdjust="spacingAndGlyphs" stroke="#222" stroke-width="0.06">338</text>
<text x="467.88" y="159.40" font-size="5.30" fill="#222" font-weight="normal" font-style="normal" text-anchor="start" textLength="9.05" lengthAdjust="spacingAndGlyphs" stroke="#222" stroke-width="0.06">294</text>
<text x="479.51" y="159.40" font-size="5.30" fill="#222" font-weight="normal" font-style="normal" text-anchor="start" textLength="9.05" lengthAdjust="spacingAndGlyphs" stroke="#222" stroke-width="0.06">274</text>
<text x="491.14" y="159.40" font-size="5.30" fill="#222" font-weight="normal" font-style="normal" text-anchor="start" textLength="9.05" lengthAdjust="spacingAndGlyphs" stroke="#222" stroke-width="0.06">257</text>
<text x="502.78" y="159.40" font-size="5.30" fill="#222" font-weight="normal" font-style="normal" text-anchor="start" textLength="9.05" lengthAdjust="spacingAndGlyphs" stroke="#222" stroke-width="0.06">243</text>
<text x="388.00" y="167.90" font-size="5.30" fill="#222" font-weight="normal" font-style="normal" text-anchor="start" textLength="6.00" lengthAdjust="spacingAndGlyphs" stroke="#222" stroke-width="0.06">68</text>
<text x="399.63" y="167.90" font-size="5.30" fill="#222" font-weight="normal" font-style="normal" text-anchor="start" textLength="6.00" lengthAdjust="spacingAndGlyphs" stroke="#222" stroke-width="0.06">33</text>
<text x="411.26" y="167.90" font-size="5.30" fill="#222" font-weight="normal" font-style="normal" text-anchor="start" textLength="6.00" lengthAdjust="spacingAndGlyphs" stroke="#222" stroke-width="0.06">21</text>
<text x="422.89" y="167.90" font-size="5.30" fill="#222" font-weight="normal" font-style="normal" text-anchor="start" textLength="6.00" lengthAdjust="spacingAndGlyphs" stroke="#222" stroke-width="0.06">16</text>
<text x="434.52" y="167.90" font-size="5.30" fill="#222" font-weight="normal" font-style="normal" text-anchor="start" textLength="6.00" lengthAdjust="spacingAndGlyphs" stroke="#222" stroke-width="0.06">14</text>
<text x="446.15" y="167.90" font-size="5.30" fill="#222" font-weight="normal" font-style="normal" text-anchor="start" textLength="6.00" lengthAdjust="spacingAndGlyphs" stroke="#222" stroke-width="0.06">12</text>
<text x="457.78" y="167.90" font-size="5.30" fill="#222" font-weight="normal" font-style="normal" text-anchor="start" textLength="6.00" lengthAdjust="spacingAndGlyphs" stroke="#222" stroke-width="0.06">11</text>
<text x="470.93" y="167.90" font-size="5.30" fill="#222" font-weight="normal" font-style="normal" text-anchor="start" textLength="2.95" lengthAdjust="spacingAndGlyphs" stroke="#222" stroke-width="0.06">9</text>
<text x="482.56" y="167.90" font-size="5.30" fill="#222" font-weight="normal" font-style="normal" text-anchor="start" textLength="2.95" lengthAdjust="spacingAndGlyphs" stroke="#222" stroke-width="0.06">9</text>
<text x="494.19" y="167.90" font-size="5.30" fill="#222" font-weight="normal" font-style="normal" text-anchor="start" textLength="2.95" lengthAdjust="spacingAndGlyphs" stroke="#222" stroke-width="0.06">8</text>
<text x="505.82" y="167.90" font-size="5.30" fill="#222" font-weight="normal" font-style="normal" text-anchor="start" textLength="2.95" lengthAdjust="spacingAndGlyphs" stroke="#222" stroke-width="0.06">8</text>
<text x="388.00" y="175.70" font-size="5.30" fill="#222" font-weight="normal" font-style="normal" text-anchor="start" textLength="6.00" lengthAdjust="spacingAndGlyphs" stroke="#222" stroke-width="0.06">38</text>
<text x="399.63" y="175.70" font-size="5.30" fill="#222" font-weight="normal" font-style="normal" text-anchor="start" textLength="6.00" lengthAdjust="spacingAndGlyphs" stroke="#222" stroke-width="0.06">21</text>
<text x="411.26" y="175.70" font-size="5.30" fill="#222" font-weight="normal" font-style="normal" text-anchor="start" textLength="6.00" lengthAdjust="spacingAndGlyphs" stroke="#222" stroke-width="0.06">19</text>
<text x="422.89" y="175.70" font-size="5.30" fill="#222" font-weight="normal" font-style="normal" text-anchor="start" textLength="6.00" lengthAdjust="spacingAndGlyphs" stroke="#222" stroke-width="0.06">17</text>
<text x="434.52" y="175.70" font-size="5.30" fill="#222" font-weight="normal" font-style="normal" text-anchor="start" textLength="6.00" lengthAdjust="spacingAndGlyphs" stroke="#222" stroke-width="0.06">15</text>
<text x="446.15" y="175.70" font-size="5.30" fill="#222" font-weight="normal" font-style="normal" text-anchor="start" textLength="6.00" lengthAdjust="spacingAndGlyphs" stroke="#222" stroke-width="0.06">14</text>
<text x="457.78" y="175.70" font-size="5.30" fill="#222" font-weight="normal" font-style="normal" text-anchor="start" textLength="6.00" lengthAdjust="spacingAndGlyphs" stroke="#222" stroke-width="0.06">13</text>
<text x="469.41" y="175.70" font-size="5.30" fill="#222" font-weight="normal" font-style="normal" text-anchor="start" textLength="6.00" lengthAdjust="spacingAndGlyphs" stroke="#222" stroke-width="0.06">11</text>
<text x="481.04" y="175.70" font-size="5.30" fill="#222" font-weight="normal" font-style="normal" text-anchor="start" textLength="6.00" lengthAdjust="spacingAndGlyphs" stroke="#222" stroke-width="0.06">10</text>
<text x="492.67" y="175.70" font-size="5.30" fill="#222" font-weight="normal" font-style="normal" text-anchor="start" textLength="6.00" lengthAdjust="spacingAndGlyphs" stroke="#222" stroke-width="0.06">10</text>
<text x="504.30" y="175.70" font-size="5.30" fill="#222" font-weight="normal" font-style="normal" text-anchor="start" textLength="6.00" lengthAdjust="spacingAndGlyphs" stroke="#222" stroke-width="0.06">10</text>
<text x="6.90" y="200.10" font-size="10.90" fill="#000" font-weight="bold" font-style="normal" text-anchor="start" stroke="#000" stroke-width="0.35">D</text>
<line x1="34.80" y1="199.50" x2="41.10" y2="199.50" stroke="#222" stroke-width="0.9"/>
<text x="42.50" y="200.90" font-size="6.10" fill="#111" font-weight="normal" font-style="italic" text-anchor="start" textLength="31.70" lengthAdjust="spacingAndGlyphs" stroke="#111" stroke-width="0.18">PTPN11-wt</text>
<line x1="76.00" y1="199.50" x2="82.30" y2="199.50" stroke="#d64a66" stroke-width="0.9"/>
<text x="83.70" y="200.90" font-size="6.10" fill="#111" font-weight="normal" font-style="italic" text-anchor="start" textLength="38.30" lengthAdjust="spacingAndGlyphs" stroke="#111" stroke-width="0.18">PTPN11-dom</text>
<line x1="124.00" y1="199.50" x2="130.30" y2="199.50" stroke="#4b80b1" stroke-width="0.9"/>
<text x="131.50" y="200.90" font-size="6.10" fill="#111" font-weight="normal" font-style="italic" text-anchor="start" textLength="34.50" lengthAdjust="spacingAndGlyphs" stroke="#111" stroke-width="0.18">PTPN11-sub</text>
<rect x="36.70" y="205.40" width="128.80" height="107.90" fill="none" stroke="#1a1a1a" stroke-width="1.3"/>
<line x1="33.60" y1="211.20" x2="36.70" y2="211.20" stroke="#222" stroke-width="1.1"/>
<text x="19.30" y="213.55" font-size="6.70" fill="#1a1a1a" font-weight="normal" font-style="normal" text-anchor="start" textLength="13.30" lengthAdjust="spacingAndGlyphs" stroke="#1a1a1a" stroke-width="0.12">1.00</text>
<line x1="33.60" y1="235.53" x2="36.70" y2="235.53" stroke="#222" stroke-width="1.1"/>
<text x="19.30" y="237.88" font-size="6.70" fill="#1a1a1a" font-weight="normal" font-style="normal" text-anchor="start" textLength="13.30" lengthAdjust="spacingAndGlyphs" stroke="#1a1a1a" stroke-width="0.12">0.75</text>
<line x1="33.60" y1="259.85" x2="36.70" y2="259.85" stroke="#222" stroke-width="1.1"/>
<text x="19.30" y="262.20" font-size="6.70" fill="#1a1a1a" font-weight="normal" font-style="normal" text-anchor="start" textLength="13.30" lengthAdjust="spacingAndGlyphs" stroke="#1a1a1a" stroke-width="0.12">0.50</text>
<line x1="33.60" y1="284.18" x2="36.70" y2="284.18" stroke="#222" stroke-width="1.1"/>
<text x="19.30" y="286.53" font-size="6.70" fill="#1a1a1a" font-weight="normal" font-style="normal" text-anchor="start" textLength="13.30" lengthAdjust="spacingAndGlyphs" stroke="#1a1a1a" stroke-width="0.12">0.25</text>
<line x1="33.60" y1="308.50" x2="36.70" y2="308.50" stroke="#222" stroke-width="1.1"/>
<text x="19.30" y="310.85" font-size="6.70" fill="#1a1a1a" font-weight="normal" font-style="normal" text-anchor="start" textLength="13.30" lengthAdjust="spacingAndGlyphs" stroke="#1a1a1a" stroke-width="0.12">0.00</text>
<line x1="42.00" y1="313.30" x2="42.00" y2="315.70" stroke="#222" stroke-width="1.1"/>
<text x="40.27" y="322.30" font-size="6.70" fill="#1a1a1a" font-weight="normal" font-style="normal" text-anchor="start" textLength="3.45" lengthAdjust="spacingAndGlyphs" stroke="#1a1a1a" stroke-width="0.12">0</text>
<line x1="53.67" y1="313.30" x2="53.67" y2="315.70" stroke="#222" stroke-width="1.1"/>
<text x="51.95" y="322.30" font-size="6.70" fill="#1a1a1a" font-weight="normal" font-style="normal" text-anchor="start" textLength="3.45" lengthAdjust="spacingAndGlyphs" stroke="#1a1a1a" stroke-width="0.12">6</text>
<line x1="65.34" y1="313.30" x2="65.34" y2="315.70" stroke="#222" stroke-width="1.1"/>
<text x="61.84" y="322.30" font-size="6.70" fill="#1a1a1a" font-weight="normal" font-style="normal" text-anchor="start" textLength="7.00" lengthAdjust="spacingAndGlyphs" stroke="#1a1a1a" stroke-width="0.12">12</text>
<line x1="77.01" y1="313.30" x2="77.01" y2="315.70" stroke="#222" stroke-width="1.1"/>
<text x="73.51" y="322.30" font-size="6.70" fill="#1a1a1a" font-weight="normal" font-style="normal" text-anchor="start" textLength="7.00" lengthAdjust="spacingAndGlyphs" stroke="#1a1a1a" stroke-width="0.12">18</text>
<line x1="88.68" y1="313.30" x2="88.68" y2="315.70" stroke="#222" stroke-width="1.1"/>
<text x="85.18" y="322.30" font-size="6.70" fill="#1a1a1a" font-weight="normal" font-style="normal" text-anchor="start" textLength="7.00" lengthAdjust="spacingAndGlyphs" stroke="#1a1a1a" stroke-width="0.12">24</text>
<line x1="100.35" y1="313.30" x2="100.35" y2="315.70" stroke="#222" stroke-width="1.1"/>
<text x="96.85" y="322.30" font-size="6.70" fill="#1a1a1a" font-weight="normal" font-style="normal" text-anchor="start" textLength="7.00" lengthAdjust="spacingAndGlyphs" stroke="#1a1a1a" stroke-width="0.12">30</text>
<line x1="112.02" y1="313.30" x2="112.02" y2="315.70" stroke="#222" stroke-width="1.1"/>
<text x="108.52" y="322.30" font-size="6.70" fill="#1a1a1a" font-weight="normal" font-style="normal" text-anchor="start" textLength="7.00" lengthAdjust="spacingAndGlyphs" stroke="#1a1a1a" stroke-width="0.12">36</text>
<line x1="123.69" y1="313.30" x2="123.69" y2="315.70" stroke="#222" stroke-width="1.1"/>
<text x="120.19" y="322.30" font-size="6.70" fill="#1a1a1a" font-weight="normal" font-style="normal" text-anchor="start" textLength="7.00" lengthAdjust="spacingAndGlyphs" stroke="#1a1a1a" stroke-width="0.12">42</text>
<line x1="135.36" y1="313.30" x2="135.36" y2="315.70" stroke="#222" stroke-width="1.1"/>
<text x="131.86" y="322.30" font-size="6.70" fill="#1a1a1a" font-weight="normal" font-style="normal" text-anchor="start" textLength="7.00" lengthAdjust="spacingAndGlyphs" stroke="#1a1a1a" stroke-width="0.12">48</text>
<line x1="147.03" y1="313.30" x2="147.03" y2="315.70" stroke="#222" stroke-width="1.1"/>
<text x="143.53" y="322.30" font-size="6.70" fill="#1a1a1a" font-weight="normal" font-style="normal" text-anchor="start" textLength="7.00" lengthAdjust="spacingAndGlyphs" stroke="#1a1a1a" stroke-width="0.12">54</text>
<line x1="158.70" y1="313.30" x2="158.70" y2="315.70" stroke="#222" stroke-width="1.1"/>
<text x="155.20" y="322.30" font-size="6.70" fill="#1a1a1a" font-weight="normal" font-style="normal" text-anchor="start" textLength="7.00" lengthAdjust="spacingAndGlyphs" stroke="#1a1a1a" stroke-width="0.12">60</text>
<text x="91.00" y="332.00" font-size="10.40" fill="#111" font-weight="bold" font-style="normal" text-anchor="start" textLength="20.30" lengthAdjust="spacingAndGlyphs" stroke="#111" stroke-width="0.1">Months</text>
<text transform="translate(14.90,279.20) rotate(-90)" x="0" y="0" font-size="9.4" fill="#000" stroke="#000" stroke-width="0.36" textLength="39.80" lengthAdjust="spacingAndGlyphs">OS probability</text>
<text x="34.20" y="335.10" font-size="8.30" fill="#111" font-weight="normal" font-style="normal" text-anchor="start" textLength="33.40" lengthAdjust="spacingAndGlyphs" stroke="#111" stroke-width="0.14">No. at risk</text>
<text x="29.20" y="344.30" font-size="7.00" fill="#111" font-weight="normal" font-style="normal" text-anchor="start" textLength="7.50" lengthAdjust="spacingAndGlyphs" stroke="#111" stroke-width="0.14">wt</text>
<text x="11.60" y="352.50" font-size="7.10" fill="#356fa9" font-weight="normal" font-style="normal" text-anchor="start" textLength="25.10" lengthAdjust="spacingAndGlyphs" stroke="#356fa9" stroke-width="0.15">mut-sub</text>
<text x="11.60" y="360.50" font-size="7.10" fill="#d0304f" font-weight="normal" font-style="normal" text-anchor="start" textLength="26.90" lengthAdjust="spacingAndGlyphs" stroke="#d0304f" stroke-width="0.15">mut-dom</text>
<line x1="36.00" y1="361.90" x2="164.00" y2="361.90" stroke="#222" stroke-width="1.2"/>
<text x="38.98" y="343.90" font-size="5.30" fill="#222" font-weight="normal" font-style="normal" text-anchor="start" textLength="9.05" lengthAdjust="spacingAndGlyphs" stroke="#222" stroke-width="0.06">511</text>
<text x="50.61" y="343.90" font-size="5.30" fill="#222" font-weight="normal" font-style="normal" text-anchor="start" textLength="9.05" lengthAdjust="spacingAndGlyphs" stroke="#222" stroke-width="0.06">439</text>
<text x="62.24" y="343.90" font-size="5.30" fill="#222" font-weight="normal" font-style="normal" text-anchor="start" textLength="9.05" lengthAdjust="spacingAndGlyphs" stroke="#222" stroke-width="0.06">390</text>
<text x="73.86" y="343.90" font-size="5.30" fill="#222" font-weight="normal" font-style="normal" text-anchor="start" textLength="9.05" lengthAdjust="spacingAndGlyphs" stroke="#222" stroke-width="0.06">342</text>
<text x="85.49" y="343.90" font-size="5.30" fill="#222" font-weight="normal" font-style="normal" text-anchor="start" textLength="9.05" lengthAdjust="spacingAndGlyphs" stroke="#222" stroke-width="0.06">323</text>
<text x="97.12" y="343.90" font-size="5.30" fill="#222" font-weight="normal" font-style="normal" text-anchor="start" textLength="9.05" lengthAdjust="spacingAndGlyphs" stroke="#222" stroke-width="0.06">303</text>
<text x="108.75" y="343.90" font-size="5.30" fill="#222" font-weight="normal" font-style="normal" text-anchor="start" textLength="9.05" lengthAdjust="spacingAndGlyphs" stroke="#222" stroke-width="0.06">278</text>
<text x="120.39" y="343.90" font-size="5.30" fill="#222" font-weight="normal" font-style="normal" text-anchor="start" textLength="9.05" lengthAdjust="spacingAndGlyphs" stroke="#222" stroke-width="0.06">236</text>
<text x="132.01" y="343.90" font-size="5.30" fill="#222" font-weight="normal" font-style="normal" text-anchor="start" textLength="9.05" lengthAdjust="spacingAndGlyphs" stroke="#222" stroke-width="0.06">217</text>
<text x="143.64" y="343.90" font-size="5.30" fill="#222" font-weight="normal" font-style="normal" text-anchor="start" textLength="9.05" lengthAdjust="spacingAndGlyphs" stroke="#222" stroke-width="0.06">206</text>
<text x="155.28" y="343.90" font-size="5.30" fill="#222" font-weight="normal" font-style="normal" text-anchor="start" textLength="9.05" lengthAdjust="spacingAndGlyphs" stroke="#222" stroke-width="0.06">194</text>
<text x="40.50" y="352.40" font-size="5.30" fill="#222" font-weight="normal" font-style="normal" text-anchor="start" textLength="6.00" lengthAdjust="spacingAndGlyphs" stroke="#222" stroke-width="0.06">41</text>
<text x="52.13" y="352.40" font-size="5.30" fill="#222" font-weight="normal" font-style="normal" text-anchor="start" textLength="6.00" lengthAdjust="spacingAndGlyphs" stroke="#222" stroke-width="0.06">29</text>
<text x="63.76" y="352.40" font-size="5.30" fill="#222" font-weight="normal" font-style="normal" text-anchor="start" textLength="6.00" lengthAdjust="spacingAndGlyphs" stroke="#222" stroke-width="0.06">22</text>
<text x="75.39" y="352.40" font-size="5.30" fill="#222" font-weight="normal" font-style="normal" text-anchor="start" textLength="6.00" lengthAdjust="spacingAndGlyphs" stroke="#222" stroke-width="0.06">17</text>
<text x="87.02" y="352.40" font-size="5.30" fill="#222" font-weight="normal" font-style="normal" text-anchor="start" textLength="6.00" lengthAdjust="spacingAndGlyphs" stroke="#222" stroke-width="0.06">14</text>
<text x="98.65" y="352.40" font-size="5.30" fill="#222" font-weight="normal" font-style="normal" text-anchor="start" textLength="6.00" lengthAdjust="spacingAndGlyphs" stroke="#222" stroke-width="0.06">13</text>
<text x="110.28" y="352.40" font-size="5.30" fill="#222" font-weight="normal" font-style="normal" text-anchor="start" textLength="6.00" lengthAdjust="spacingAndGlyphs" stroke="#222" stroke-width="0.06">11</text>
<text x="123.44" y="352.40" font-size="5.30" fill="#222" font-weight="normal" font-style="normal" text-anchor="start" textLength="2.95" lengthAdjust="spacingAndGlyphs" stroke="#222" stroke-width="0.06">9</text>
<text x="135.06" y="352.40" font-size="5.30" fill="#222" font-weight="normal" font-style="normal" text-anchor="start" textLength="2.95" lengthAdjust="spacingAndGlyphs" stroke="#222" stroke-width="0.06">9</text>
<text x="146.69" y="352.40" font-size="5.30" fill="#222" font-weight="normal" font-style="normal" text-anchor="start" textLength="2.95" lengthAdjust="spacingAndGlyphs" stroke="#222" stroke-width="0.06">9</text>
<text x="158.33" y="352.40" font-size="5.30" fill="#222" font-weight="normal" font-style="normal" text-anchor="start" textLength="2.95" lengthAdjust="spacingAndGlyphs" stroke="#222" stroke-width="0.06">9</text>
<text x="40.50" y="360.20" font-size="5.30" fill="#222" font-weight="normal" font-style="normal" text-anchor="start" textLength="6.00" lengthAdjust="spacingAndGlyphs" stroke="#222" stroke-width="0.06">18</text>
<text x="52.13" y="360.20" font-size="5.30" fill="#222" font-weight="normal" font-style="normal" text-anchor="start" textLength="6.00" lengthAdjust="spacingAndGlyphs" stroke="#222" stroke-width="0.06">15</text>
<text x="63.76" y="360.20" font-size="5.30" fill="#222" font-weight="normal" font-style="normal" text-anchor="start" textLength="6.00" lengthAdjust="spacingAndGlyphs" stroke="#222" stroke-width="0.06">14</text>
<text x="75.39" y="360.20" font-size="5.30" fill="#222" font-weight="normal" font-style="normal" text-anchor="start" textLength="6.00" lengthAdjust="spacingAndGlyphs" stroke="#222" stroke-width="0.06">13</text>
<text x="87.02" y="360.20" font-size="5.30" fill="#222" font-weight="normal" font-style="normal" text-anchor="start" textLength="6.00" lengthAdjust="spacingAndGlyphs" stroke="#222" stroke-width="0.06">13</text>
<text x="98.65" y="360.20" font-size="5.30" fill="#222" font-weight="normal" font-style="normal" text-anchor="start" textLength="6.00" lengthAdjust="spacingAndGlyphs" stroke="#222" stroke-width="0.06">11</text>
<text x="111.81" y="360.20" font-size="5.30" fill="#222" font-weight="normal" font-style="normal" text-anchor="start" textLength="2.95" lengthAdjust="spacingAndGlyphs" stroke="#222" stroke-width="0.06">9</text>
<text x="123.44" y="360.20" font-size="5.30" fill="#222" font-weight="normal" font-style="normal" text-anchor="start" textLength="2.95" lengthAdjust="spacingAndGlyphs" stroke="#222" stroke-width="0.06">9</text>
<text x="135.06" y="360.20" font-size="5.30" fill="#222" font-weight="normal" font-style="normal" text-anchor="start" textLength="2.95" lengthAdjust="spacingAndGlyphs" stroke="#222" stroke-width="0.06">8</text>
<text x="146.69" y="360.20" font-size="5.30" fill="#222" font-weight="normal" font-style="normal" text-anchor="start" textLength="2.95" lengthAdjust="spacingAndGlyphs" stroke="#222" stroke-width="0.06">8</text>
<text x="158.33" y="360.20" font-size="5.30" fill="#222" font-weight="normal" font-style="normal" text-anchor="start" textLength="2.95" lengthAdjust="spacingAndGlyphs" stroke="#222" stroke-width="0.06">8</text>
<text x="180.00" y="200.10" font-size="10.90" fill="#000" font-weight="bold" font-style="normal" text-anchor="start" stroke="#000" stroke-width="0.35">E</text>
<line x1="207.90" y1="199.50" x2="214.20" y2="199.50" stroke="#222" stroke-width="0.9"/>
<text x="215.60" y="200.90" font-size="6.10" fill="#111" font-weight="normal" font-style="italic" text-anchor="start" textLength="31.70" lengthAdjust="spacingAndGlyphs" stroke="#111" stroke-width="0.18">PTPN11-wt</text>
<line x1="249.10" y1="199.50" x2="255.40" y2="199.50" stroke="#d64a66" stroke-width="0.9"/>
<text x="256.80" y="200.90" font-size="6.10" fill="#111" font-weight="normal" font-style="italic" text-anchor="start" textLength="38.30" lengthAdjust="spacingAndGlyphs" stroke="#111" stroke-width="0.18">PTPN11-dom</text>
<line x1="297.10" y1="199.50" x2="303.40" y2="199.50" stroke="#4b80b1" stroke-width="0.9"/>
<text x="304.60" y="200.90" font-size="6.10" fill="#111" font-weight="normal" font-style="italic" text-anchor="start" textLength="34.50" lengthAdjust="spacingAndGlyphs" stroke="#111" stroke-width="0.18">PTPN11-sub</text>
<rect x="209.80" y="205.40" width="128.80" height="107.90" fill="none" stroke="#1a1a1a" stroke-width="1.3"/>
<line x1="206.70" y1="211.20" x2="209.80" y2="211.20" stroke="#222" stroke-width="1.1"/>
<text x="192.40" y="213.55" font-size="6.70" fill="#1a1a1a" font-weight="normal" font-style="normal" text-anchor="start" textLength="13.30" lengthAdjust="spacingAndGlyphs" stroke="#1a1a1a" stroke-width="0.12">1.00</text>
<line x1="206.70" y1="235.53" x2="209.80" y2="235.53" stroke="#222" stroke-width="1.1"/>
<text x="192.40" y="237.88" font-size="6.70" fill="#1a1a1a" font-weight="normal" font-style="normal" text-anchor="start" textLength="13.30" lengthAdjust="spacingAndGlyphs" stroke="#1a1a1a" stroke-width="0.12">0.75</text>
<line x1="206.70" y1="259.85" x2="209.80" y2="259.85" stroke="#222" stroke-width="1.1"/>
<text x="192.40" y="262.20" font-size="6.70" fill="#1a1a1a" font-weight="normal" font-style="normal" text-anchor="start" textLength="13.30" lengthAdjust="spacingAndGlyphs" stroke="#1a1a1a" stroke-width="0.12">0.50</text>
<line x1="206.70" y1="284.18" x2="209.80" y2="284.18" stroke="#222" stroke-width="1.1"/>
<text x="192.40" y="286.53" font-size="6.70" fill="#1a1a1a" font-weight="normal" font-style="normal" text-anchor="start" textLength="13.30" lengthAdjust="spacingAndGlyphs" stroke="#1a1a1a" stroke-width="0.12">0.25</text>
<line x1="206.70" y1="308.50" x2="209.80" y2="308.50" stroke="#222" stroke-width="1.1"/>
<text x="192.40" y="310.85" font-size="6.70" fill="#1a1a1a" font-weight="normal" font-style="normal" text-anchor="start" textLength="13.30" lengthAdjust="spacingAndGlyphs" stroke="#1a1a1a" stroke-width="0.12">0.00</text>
<line x1="215.10" y1="313.30" x2="215.10" y2="315.70" stroke="#222" stroke-width="1.1"/>
<text x="213.38" y="322.30" font-size="6.70" fill="#1a1a1a" font-weight="normal" font-style="normal" text-anchor="start" textLength="3.45" lengthAdjust="spacingAndGlyphs" stroke="#1a1a1a" stroke-width="0.12">0</text>
<line x1="226.77" y1="313.30" x2="226.77" y2="315.70" stroke="#222" stroke-width="1.1"/>
<text x="225.04" y="322.30" font-size="6.70" fill="#1a1a1a" font-weight="normal" font-style="normal" text-anchor="start" textLength="3.45" lengthAdjust="spacingAndGlyphs" stroke="#1a1a1a" stroke-width="0.12">6</text>
<line x1="238.44" y1="313.30" x2="238.44" y2="315.70" stroke="#222" stroke-width="1.1"/>
<text x="234.94" y="322.30" font-size="6.70" fill="#1a1a1a" font-weight="normal" font-style="normal" text-anchor="start" textLength="7.00" lengthAdjust="spacingAndGlyphs" stroke="#1a1a1a" stroke-width="0.12">12</text>
<line x1="250.11" y1="313.30" x2="250.11" y2="315.70" stroke="#222" stroke-width="1.1"/>
<text x="246.61" y="322.30" font-size="6.70" fill="#1a1a1a" font-weight="normal" font-style="normal" text-anchor="start" textLength="7.00" lengthAdjust="spacingAndGlyphs" stroke="#1a1a1a" stroke-width="0.12">18</text>
<line x1="261.78" y1="313.30" x2="261.78" y2="315.70" stroke="#222" stroke-width="1.1"/>
<text x="258.28" y="322.30" font-size="6.70" fill="#1a1a1a" font-weight="normal" font-style="normal" text-anchor="start" textLength="7.00" lengthAdjust="spacingAndGlyphs" stroke="#1a1a1a" stroke-width="0.12">24</text>
<line x1="273.45" y1="313.30" x2="273.45" y2="315.70" stroke="#222" stroke-width="1.1"/>
<text x="269.95" y="322.30" font-size="6.70" fill="#1a1a1a" font-weight="normal" font-style="normal" text-anchor="start" textLength="7.00" lengthAdjust="spacingAndGlyphs" stroke="#1a1a1a" stroke-width="0.12">30</text>
<line x1="285.12" y1="313.30" x2="285.12" y2="315.70" stroke="#222" stroke-width="1.1"/>
<text x="281.62" y="322.30" font-size="6.70" fill="#1a1a1a" font-weight="normal" font-style="normal" text-anchor="start" textLength="7.00" lengthAdjust="spacingAndGlyphs" stroke="#1a1a1a" stroke-width="0.12">36</text>
<line x1="296.79" y1="313.30" x2="296.79" y2="315.70" stroke="#222" stroke-width="1.1"/>
<text x="293.29" y="322.30" font-size="6.70" fill="#1a1a1a" font-weight="normal" font-style="normal" text-anchor="start" textLength="7.00" lengthAdjust="spacingAndGlyphs" stroke="#1a1a1a" stroke-width="0.12">42</text>
<line x1="308.46" y1="313.30" x2="308.46" y2="315.70" stroke="#222" stroke-width="1.1"/>
<text x="304.96" y="322.30" font-size="6.70" fill="#1a1a1a" font-weight="normal" font-style="normal" text-anchor="start" textLength="7.00" lengthAdjust="spacingAndGlyphs" stroke="#1a1a1a" stroke-width="0.12">48</text>
<line x1="320.13" y1="313.30" x2="320.13" y2="315.70" stroke="#222" stroke-width="1.1"/>
<text x="316.63" y="322.30" font-size="6.70" fill="#1a1a1a" font-weight="normal" font-style="normal" text-anchor="start" textLength="7.00" lengthAdjust="spacingAndGlyphs" stroke="#1a1a1a" stroke-width="0.12">54</text>
<line x1="331.80" y1="313.30" x2="331.80" y2="315.70" stroke="#222" stroke-width="1.1"/>
<text x="328.30" y="322.30" font-size="6.70" fill="#1a1a1a" font-weight="normal" font-style="normal" text-anchor="start" textLength="7.00" lengthAdjust="spacingAndGlyphs" stroke="#1a1a1a" stroke-width="0.12">60</text>
<text x="264.10" y="332.00" font-size="10.40" fill="#111" font-weight="bold" font-style="normal" text-anchor="start" textLength="20.30" lengthAdjust="spacingAndGlyphs" stroke="#111" stroke-width="0.1">Months</text>
<text transform="translate(188.00,279.20) rotate(-90)" x="0" y="0" font-size="9.4" fill="#000" stroke="#000" stroke-width="0.36" textLength="39.80" lengthAdjust="spacingAndGlyphs">OS probability</text>
<text x="208.60" y="335.10" font-size="8.30" fill="#111" font-weight="normal" font-style="normal" text-anchor="start" textLength="33.40" lengthAdjust="spacingAndGlyphs" stroke="#111" stroke-width="0.14">No. at risk</text>
<text x="203.60" y="344.30" font-size="7.00" fill="#111" font-weight="normal" font-style="normal" text-anchor="start" textLength="7.50" lengthAdjust="spacingAndGlyphs" stroke="#111" stroke-width="0.14">wt</text>
<text x="186.00" y="352.50" font-size="7.10" fill="#356fa9" font-weight="normal" font-style="normal" text-anchor="start" textLength="25.10" lengthAdjust="spacingAndGlyphs" stroke="#356fa9" stroke-width="0.15">mut-sub</text>
<text x="186.00" y="360.50" font-size="7.10" fill="#d0304f" font-weight="normal" font-style="normal" text-anchor="start" textLength="26.90" lengthAdjust="spacingAndGlyphs" stroke="#d0304f" stroke-width="0.15">mut-dom</text>
<line x1="209.10" y1="361.90" x2="337.10" y2="361.90" stroke="#222" stroke-width="1.2"/>
<text x="213.37" y="343.90" font-size="5.30" fill="#222" font-weight="normal" font-style="normal" text-anchor="start" textLength="9.05" lengthAdjust="spacingAndGlyphs" stroke="#222" stroke-width="0.06">543</text>
<text x="225.00" y="343.90" font-size="5.30" fill="#222" font-weight="normal" font-style="normal" text-anchor="start" textLength="9.05" lengthAdjust="spacingAndGlyphs" stroke="#222" stroke-width="0.06">412</text>
<text x="236.63" y="343.90" font-size="5.30" fill="#222" font-weight="normal" font-style="normal" text-anchor="start" textLength="9.05" lengthAdjust="spacingAndGlyphs" stroke="#222" stroke-width="0.06">304</text>
<text x="248.26" y="343.90" font-size="5.30" fill="#222" font-weight="normal" font-style="normal" text-anchor="start" textLength="9.05" lengthAdjust="spacingAndGlyphs" stroke="#222" stroke-width="0.06">255</text>
<text x="259.89" y="343.90" font-size="5.30" fill="#222" font-weight="normal" font-style="normal" text-anchor="start" textLength="9.05" lengthAdjust="spacingAndGlyphs" stroke="#222" stroke-width="0.06">221</text>
<text x="271.53" y="343.90" font-size="5.30" fill="#222" font-weight="normal" font-style="normal" text-anchor="start" textLength="9.05" lengthAdjust="spacingAndGlyphs" stroke="#222" stroke-width="0.06">189</text>
<text x="283.16" y="343.90" font-size="5.30" fill="#222" font-weight="normal" font-style="normal" text-anchor="start" textLength="9.05" lengthAdjust="spacingAndGlyphs" stroke="#222" stroke-width="0.06">167</text>
<text x="294.79" y="343.90" font-size="5.30" fill="#222" font-weight="normal" font-style="normal" text-anchor="start" textLength="9.05" lengthAdjust="spacingAndGlyphs" stroke="#222" stroke-width="0.06">128</text>
<text x="306.42" y="343.90" font-size="5.30" fill="#222" font-weight="normal" font-style="normal" text-anchor="start" textLength="9.05" lengthAdjust="spacingAndGlyphs" stroke="#222" stroke-width="0.06">116</text>
<text x="318.05" y="343.90" font-size="5.30" fill="#222" font-weight="normal" font-style="normal" text-anchor="start" textLength="9.05" lengthAdjust="spacingAndGlyphs" stroke="#222" stroke-width="0.06">110</text>
<text x="329.68" y="343.90" font-size="5.30" fill="#222" font-weight="normal" font-style="normal" text-anchor="start" textLength="9.05" lengthAdjust="spacingAndGlyphs" stroke="#222" stroke-width="0.06">102</text>
<text x="214.90" y="352.40" font-size="5.30" fill="#222" font-weight="normal" font-style="normal" text-anchor="start" textLength="6.00" lengthAdjust="spacingAndGlyphs" stroke="#222" stroke-width="0.06">13</text>
<text x="228.06" y="352.40" font-size="5.30" fill="#222" font-weight="normal" font-style="normal" text-anchor="start" textLength="2.95" lengthAdjust="spacingAndGlyphs" stroke="#222" stroke-width="0.06">6</text>
<text x="239.69" y="352.40" font-size="5.30" fill="#222" font-weight="normal" font-style="normal" text-anchor="start" textLength="2.95" lengthAdjust="spacingAndGlyphs" stroke="#222" stroke-width="0.06">3</text>
<text x="251.31" y="352.40" font-size="5.30" fill="#222" font-weight="normal" font-style="normal" text-anchor="start" textLength="2.95" lengthAdjust="spacingAndGlyphs" stroke="#222" stroke-width="0.06">0</text>
<text x="262.94" y="352.40" font-size="5.30" fill="#222" font-weight="normal" font-style="normal" text-anchor="start" textLength="2.95" lengthAdjust="spacingAndGlyphs" stroke="#222" stroke-width="0.06">0</text>
<text x="274.57" y="352.40" font-size="5.30" fill="#222" font-weight="normal" font-style="normal" text-anchor="start" textLength="2.95" lengthAdjust="spacingAndGlyphs" stroke="#222" stroke-width="0.06">0</text>
<text x="286.20" y="352.40" font-size="5.30" fill="#222" font-weight="normal" font-style="normal" text-anchor="start" textLength="2.95" lengthAdjust="spacingAndGlyphs" stroke="#222" stroke-width="0.06">0</text>
<text x="297.83" y="352.40" font-size="5.30" fill="#222" font-weight="normal" font-style="normal" text-anchor="start" textLength="2.95" lengthAdjust="spacingAndGlyphs" stroke="#222" stroke-width="0.06">0</text>
<text x="309.46" y="352.40" font-size="5.30" fill="#222" font-weight="normal" font-style="normal" text-anchor="start" textLength="2.95" lengthAdjust="spacingAndGlyphs" stroke="#222" stroke-width="0.06">0</text>
<text x="321.09" y="352.40" font-size="5.30" fill="#222" font-weight="normal" font-style="normal" text-anchor="start" textLength="2.95" lengthAdjust="spacingAndGlyphs" stroke="#222" stroke-width="0.06">0</text>
<text x="332.73" y="352.40" font-size="5.30" fill="#222" font-weight="normal" font-style="normal" text-anchor="start" textLength="2.95" lengthAdjust="spacingAndGlyphs" stroke="#222" stroke-width="0.06">0</text>
<text x="214.90" y="360.20" font-size="5.30" fill="#222" font-weight="normal" font-style="normal" text-anchor="start" textLength="6.00" lengthAdjust="spacingAndGlyphs" stroke="#222" stroke-width="0.06">10</text>
<text x="228.06" y="360.20" font-size="5.30" fill="#222" font-weight="normal" font-style="normal" text-anchor="start" textLength="2.95" lengthAdjust="spacingAndGlyphs" stroke="#222" stroke-width="0.06">8</text>
<text x="239.69" y="360.20" font-size="5.30" fill="#222" font-weight="normal" font-style="normal" text-anchor="start" textLength="2.95" lengthAdjust="spacingAndGlyphs" stroke="#222" stroke-width="0.06">7</text>
<text x="251.31" y="360.20" font-size="5.30" fill="#222" font-weight="normal" font-style="normal" text-anchor="start" textLength="2.95" lengthAdjust="spacingAndGlyphs" stroke="#222" stroke-width="0.06">7</text>
<text x="262.94" y="360.20" font-size="5.30" fill="#222" font-weight="normal" font-style="normal" text-anchor="start" textLength="2.95" lengthAdjust="spacingAndGlyphs" stroke="#222" stroke-width="0.06">6</text>
<text x="274.57" y="360.20" font-size="5.30" fill="#222" font-weight="normal" font-style="normal" text-anchor="start" textLength="2.95" lengthAdjust="spacingAndGlyphs" stroke="#222" stroke-width="0.06">6</text>
<text x="286.20" y="360.20" font-size="5.30" fill="#222" font-weight="normal" font-style="normal" text-anchor="start" textLength="2.95" lengthAdjust="spacingAndGlyphs" stroke="#222" stroke-width="0.06">6</text>
<text x="297.83" y="360.20" font-size="5.30" fill="#222" font-weight="normal" font-style="normal" text-anchor="start" textLength="2.95" lengthAdjust="spacingAndGlyphs" stroke="#222" stroke-width="0.06">4</text>
<text x="309.46" y="360.20" font-size="5.30" fill="#222" font-weight="normal" font-style="normal" text-anchor="start" textLength="2.95" lengthAdjust="spacingAndGlyphs" stroke="#222" stroke-width="0.06">4</text>
<text x="321.09" y="360.20" font-size="5.30" fill="#222" font-weight="normal" font-style="normal" text-anchor="start" textLength="2.95" lengthAdjust="spacingAndGlyphs" stroke="#222" stroke-width="0.06">4</text>
<text x="332.73" y="360.20" font-size="5.30" fill="#222" font-weight="normal" font-style="normal" text-anchor="start" textLength="2.95" lengthAdjust="spacingAndGlyphs" stroke="#222" stroke-width="0.06">4</text>
<text x="353.10" y="200.10" font-size="10.90" fill="#000" font-weight="bold" font-style="normal" text-anchor="start" stroke="#000" stroke-width="0.35">F</text>
<line x1="381.00" y1="199.50" x2="387.30" y2="199.50" stroke="#222" stroke-width="0.9"/>
<text x="388.70" y="200.90" font-size="6.10" fill="#111" font-weight="normal" font-style="italic" text-anchor="start" textLength="31.70" lengthAdjust="spacingAndGlyphs" stroke="#111" stroke-width="0.18">PTPN11-wt</text>
<line x1="422.20" y1="199.50" x2="428.50" y2="199.50" stroke="#d64a66" stroke-width="0.9"/>
<text x="429.90" y="200.90" font-size="6.10" fill="#111" font-weight="normal" font-style="italic" text-anchor="start" textLength="38.30" lengthAdjust="spacingAndGlyphs" stroke="#111" stroke-width="0.18">PTPN11-dom</text>
<line x1="470.20" y1="199.50" x2="476.50" y2="199.50" stroke="#4b80b1" stroke-width="0.9"/>
<text x="477.70" y="200.90" font-size="6.10" fill="#111" font-weight="normal" font-style="italic" text-anchor="start" textLength="34.50" lengthAdjust="spacingAndGlyphs" stroke="#111" stroke-width="0.18">PTPN11-sub</text>
<rect x="382.90" y="205.40" width="128.80" height="107.90" fill="none" stroke="#1a1a1a" stroke-width="1.3"/>
<line x1="379.80" y1="211.20" x2="382.90" y2="211.20" stroke="#222" stroke-width="1.1"/>
<text x="365.50" y="213.55" font-size="6.70" fill="#1a1a1a" font-weight="normal" font-style="normal" text-anchor="start" textLength="13.30" lengthAdjust="spacingAndGlyphs" stroke="#1a1a1a" stroke-width="0.12">1.00</text>
<line x1="379.80" y1="235.53" x2="382.90" y2="235.53" stroke="#222" stroke-width="1.1"/>
<text x="365.50" y="237.88" font-size="6.70" fill="#1a1a1a" font-weight="normal" font-style="normal" text-anchor="start" textLength="13.30" lengthAdjust="spacingAndGlyphs" stroke="#1a1a1a" stroke-width="0.12">0.75</text>
<line x1="379.80" y1="259.85" x2="382.90" y2="259.85" stroke="#222" stroke-width="1.1"/>
<text x="365.50" y="262.20" font-size="6.70" fill="#1a1a1a" font-weight="normal" font-style="normal" text-anchor="start" textLength="13.30" lengthAdjust="spacingAndGlyphs" stroke="#1a1a1a" stroke-width="0.12">0.50</text>
<line x1="379.80" y1="284.18" x2="382.90" y2="284.18" stroke="#222" stroke-width="1.1"/>
<text x="365.50" y="286.53" font-size="6.70" fill="#1a1a1a" font-weight="normal" font-style="normal" text-anchor="start" textLength="13.30" lengthAdjust="spacingAndGlyphs" stroke="#1a1a1a" stroke-width="0.12">0.25</text>
<line x1="379.80" y1="308.50" x2="382.90" y2="308.50" stroke="#222" stroke-width="1.1"/>
<text x="365.50" y="310.85" font-size="6.70" fill="#1a1a1a" font-weight="normal" font-style="normal" text-anchor="start" textLength="13.30" lengthAdjust="spacingAndGlyphs" stroke="#1a1a1a" stroke-width="0.12">0.00</text>
<line x1="388.20" y1="313.30" x2="388.20" y2="315.70" stroke="#222" stroke-width="1.1"/>
<text x="386.47" y="322.30" font-size="6.70" fill="#1a1a1a" font-weight="normal" font-style="normal" text-anchor="start" textLength="3.45" lengthAdjust="spacingAndGlyphs" stroke="#1a1a1a" stroke-width="0.12">0</text>
<line x1="399.87" y1="313.30" x2="399.87" y2="315.70" stroke="#222" stroke-width="1.1"/>
<text x="398.14" y="322.30" font-size="6.70" fill="#1a1a1a" font-weight="normal" font-style="normal" text-anchor="start" textLength="3.45" lengthAdjust="spacingAndGlyphs" stroke="#1a1a1a" stroke-width="0.12">6</text>
<line x1="411.54" y1="313.30" x2="411.54" y2="315.70" stroke="#222" stroke-width="1.1"/>
<text x="408.04" y="322.30" font-size="6.70" fill="#1a1a1a" font-weight="normal" font-style="normal" text-anchor="start" textLength="7.00" lengthAdjust="spacingAndGlyphs" stroke="#1a1a1a" stroke-width="0.12">12</text>
<line x1="423.21" y1="313.30" x2="423.21" y2="315.70" stroke="#222" stroke-width="1.1"/>
<text x="419.71" y="322.30" font-size="6.70" fill="#1a1a1a" font-weight="normal" font-style="normal" text-anchor="start" textLength="7.00" lengthAdjust="spacingAndGlyphs" stroke="#1a1a1a" stroke-width="0.12">18</text>
<line x1="434.88" y1="313.30" x2="434.88" y2="315.70" stroke="#222" stroke-width="1.1"/>
<text x="431.38" y="322.30" font-size="6.70" fill="#1a1a1a" font-weight="normal" font-style="normal" text-anchor="start" textLength="7.00" lengthAdjust="spacingAndGlyphs" stroke="#1a1a1a" stroke-width="0.12">24</text>
<line x1="446.55" y1="313.30" x2="446.55" y2="315.70" stroke="#222" stroke-width="1.1"/>
<text x="443.05" y="322.30" font-size="6.70" fill="#1a1a1a" font-weight="normal" font-style="normal" text-anchor="start" textLength="7.00" lengthAdjust="spacingAndGlyphs" stroke="#1a1a1a" stroke-width="0.12">30</text>
<line x1="458.22" y1="313.30" x2="458.22" y2="315.70" stroke="#222" stroke-width="1.1"/>
<text x="454.72" y="322.30" font-size="6.70" fill="#1a1a1a" font-weight="normal" font-style="normal" text-anchor="start" textLength="7.00" lengthAdjust="spacingAndGlyphs" stroke="#1a1a1a" stroke-width="0.12">36</text>
<line x1="469.89" y1="313.30" x2="469.89" y2="315.70" stroke="#222" stroke-width="1.1"/>
<text x="466.39" y="322.30" font-size="6.70" fill="#1a1a1a" font-weight="normal" font-style="normal" text-anchor="start" textLength="7.00" lengthAdjust="spacingAndGlyphs" stroke="#1a1a1a" stroke-width="0.12">42</text>
<line x1="481.56" y1="313.30" x2="481.56" y2="315.70" stroke="#222" stroke-width="1.1"/>
<text x="478.06" y="322.30" font-size="6.70" fill="#1a1a1a" font-weight="normal" font-style="normal" text-anchor="start" textLength="7.00" lengthAdjust="spacingAndGlyphs" stroke="#1a1a1a" stroke-width="0.12">48</text>
<line x1="493.23" y1="313.30" x2="493.23" y2="315.70" stroke="#222" stroke-width="1.1"/>
<text x="489.73" y="322.30" font-size="6.70" fill="#1a1a1a" font-weight="normal" font-style="normal" text-anchor="start" textLength="7.00" lengthAdjust="spacingAndGlyphs" stroke="#1a1a1a" stroke-width="0.12">54</text>
<line x1="504.90" y1="313.30" x2="504.90" y2="315.70" stroke="#222" stroke-width="1.1"/>
<text x="501.40" y="322.30" font-size="6.70" fill="#1a1a1a" font-weight="normal" font-style="normal" text-anchor="start" textLength="7.00" lengthAdjust="spacingAndGlyphs" stroke="#1a1a1a" stroke-width="0.12">60</text>
<text x="437.20" y="332.00" font-size="10.40" fill="#111" font-weight="bold" font-style="normal" text-anchor="start" textLength="20.30" lengthAdjust="spacingAndGlyphs" stroke="#111" stroke-width="0.1">Months</text>
<text transform="translate(361.10,279.20) rotate(-90)" x="0" y="0" font-size="9.4" fill="#000" stroke="#000" stroke-width="0.36" textLength="39.80" lengthAdjust="spacingAndGlyphs">OS probability</text>
<text x="381.70" y="335.10" font-size="8.30" fill="#111" font-weight="normal" font-style="normal" text-anchor="start" textLength="33.40" lengthAdjust="spacingAndGlyphs" stroke="#111" stroke-width="0.14">No. at risk</text>
<text x="376.70" y="344.30" font-size="7.00" fill="#111" font-weight="normal" font-style="normal" text-anchor="start" textLength="7.50" lengthAdjust="spacingAndGlyphs" stroke="#111" stroke-width="0.14">wt</text>
<text x="359.10" y="352.50" font-size="7.10" fill="#356fa9" font-weight="normal" font-style="normal" text-anchor="start" textLength="25.10" lengthAdjust="spacingAndGlyphs" stroke="#356fa9" stroke-width="0.15">mut-sub</text>
<text x="359.10" y="360.50" font-size="7.10" fill="#d0304f" font-weight="normal" font-style="normal" text-anchor="start" textLength="26.90" lengthAdjust="spacingAndGlyphs" stroke="#d0304f" stroke-width="0.15">mut-dom</text>
<line x1="382.20" y1="361.90" x2="510.20" y2="361.90" stroke="#222" stroke-width="1.2"/>
<text x="386.48" y="343.30" font-size="5.30" fill="#222" font-weight="normal" font-style="normal" text-anchor="start" textLength="9.05" lengthAdjust="spacingAndGlyphs" stroke="#222" stroke-width="0.06">253</text>
<text x="398.11" y="343.30" font-size="5.30" fill="#222" font-weight="normal" font-style="normal" text-anchor="start" textLength="9.05" lengthAdjust="spacingAndGlyphs" stroke="#222" stroke-width="0.06">141</text>
<text x="411.26" y="343.30" font-size="5.30" fill="#222" font-weight="normal" font-style="normal" text-anchor="start" textLength="6.00" lengthAdjust="spacingAndGlyphs" stroke="#222" stroke-width="0.06">81</text>
<text x="422.89" y="343.30" font-size="5.30" fill="#222" font-weight="normal" font-style="normal" text-anchor="start" textLength="6.00" lengthAdjust="spacingAndGlyphs" stroke="#222" stroke-width="0.06">56</text>
<text x="434.52" y="343.30" font-size="5.30" fill="#222" font-weight="normal" font-style="normal" text-anchor="start" textLength="6.00" lengthAdjust="spacingAndGlyphs" stroke="#222" stroke-width="0.06">42</text>
<text x="446.15" y="343.30" font-size="5.30" fill="#222" font-weight="normal" font-style="normal" text-anchor="start" textLength="6.00" lengthAdjust="spacingAndGlyphs" stroke="#222" stroke-width="0.06">41</text>
<text x="457.78" y="343.30" font-size="5.30" fill="#222" font-weight="normal" font-style="normal" text-anchor="start" textLength="6.00" lengthAdjust="spacingAndGlyphs" stroke="#222" stroke-width="0.06">32</text>
<text x="469.41" y="343.30" font-size="5.30" fill="#222" font-weight="normal" font-style="normal" text-anchor="start" textLength="6.00" lengthAdjust="spacingAndGlyphs" stroke="#222" stroke-width="0.06">21</text>
<text x="481.04" y="343.30" font-size="5.30" fill="#222" font-weight="normal" font-style="normal" text-anchor="start" textLength="6.00" lengthAdjust="spacingAndGlyphs" stroke="#222" stroke-width="0.06">19</text>
<text x="492.67" y="343.30" font-size="5.30" fill="#222" font-weight="normal" font-style="normal" text-anchor="start" textLength="6.00" lengthAdjust="spacingAndGlyphs" stroke="#222" stroke-width="0.06">16</text>
<text x="504.30" y="343.30" font-size="5.30" fill="#222" font-weight="normal" font-style="normal" text-anchor="start" textLength="6.00" lengthAdjust="spacingAndGlyphs" stroke="#222" stroke-width="0.06">16</text>
<text x="388.00" y="351.80" font-size="5.30" fill="#222" font-weight="normal" font-style="normal" text-anchor="start" textLength="6.00" lengthAdjust="spacingAndGlyphs" stroke="#222" stroke-width="0.06">10</text>
<text x="401.15" y="351.80" font-size="5.30" fill="#222" font-weight="normal" font-style="normal" text-anchor="start" textLength="2.95" lengthAdjust="spacingAndGlyphs" stroke="#222" stroke-width="0.06">6</text>
<text x="412.78" y="351.80" font-size="5.30" fill="#222" font-weight="normal" font-style="normal" text-anchor="start" textLength="2.95" lengthAdjust="spacingAndGlyphs" stroke="#222" stroke-width="0.06">3</text>
<text x="424.41" y="351.80" font-size="5.30" fill="#222" font-weight="normal" font-style="normal" text-anchor="start" textLength="2.95" lengthAdjust="spacingAndGlyphs" stroke="#222" stroke-width="0.06">0</text>
<text x="436.04" y="351.80" font-size="5.30" fill="#222" font-weight="normal" font-style="normal" text-anchor="start" textLength="2.95" lengthAdjust="spacingAndGlyphs" stroke="#222" stroke-width="0.06">0</text>
<text x="447.67" y="351.80" font-size="5.30" fill="#222" font-weight="normal" font-style="normal" text-anchor="start" textLength="2.95" lengthAdjust="spacingAndGlyphs" stroke="#222" stroke-width="0.06">0</text>
<text x="459.30" y="351.80" font-size="5.30" fill="#222" font-weight="normal" font-style="normal" text-anchor="start" textLength="2.95" lengthAdjust="spacingAndGlyphs" stroke="#222" stroke-width="0.06">0</text>
<text x="470.93" y="351.80" font-size="5.30" fill="#222" font-weight="normal" font-style="normal" text-anchor="start" textLength="2.95" lengthAdjust="spacingAndGlyphs" stroke="#222" stroke-width="0.06">0</text>
<text x="482.56" y="351.80" font-size="5.30" fill="#222" font-weight="normal" font-style="normal" text-anchor="start" textLength="2.95" lengthAdjust="spacingAndGlyphs" stroke="#222" stroke-width="0.06">0</text>
<text x="494.19" y="351.80" font-size="5.30" fill="#222" font-weight="normal" font-style="normal" text-anchor="start" textLength="2.95" lengthAdjust="spacingAndGlyphs" stroke="#222" stroke-width="0.06">0</text>
<text x="505.82" y="351.80" font-size="5.30" fill="#222" font-weight="normal" font-style="normal" text-anchor="start" textLength="2.95" lengthAdjust="spacingAndGlyphs" stroke="#222" stroke-width="0.06">0</text>
<text x="388.00" y="359.60" font-size="5.30" fill="#222" font-weight="normal" font-style="normal" text-anchor="start" textLength="6.00" lengthAdjust="spacingAndGlyphs" stroke="#222" stroke-width="0.06">10</text>
<text x="401.15" y="359.60" font-size="5.30" fill="#222" font-weight="normal" font-style="normal" text-anchor="start" textLength="2.95" lengthAdjust="spacingAndGlyphs" stroke="#222" stroke-width="0.06">8</text>
<text x="412.78" y="359.60" font-size="5.30" fill="#222" font-weight="normal" font-style="normal" text-anchor="start" textLength="2.95" lengthAdjust="spacingAndGlyphs" stroke="#222" stroke-width="0.06">4</text>
<text x="424.41" y="359.60" font-size="5.30" fill="#222" font-weight="normal" font-style="normal" text-anchor="start" textLength="2.95" lengthAdjust="spacingAndGlyphs" stroke="#222" stroke-width="0.06">2</text>
<text x="436.04" y="359.60" font-size="5.30" fill="#222" font-weight="normal" font-style="normal" text-anchor="start" textLength="2.95" lengthAdjust="spacingAndGlyphs" stroke="#222" stroke-width="0.06">2</text>
<text x="447.67" y="359.60" font-size="5.30" fill="#222" font-weight="normal" font-style="normal" text-anchor="start" textLength="2.95" lengthAdjust="spacingAndGlyphs" stroke="#222" stroke-width="0.06">2</text>
<text x="459.30" y="359.60" font-size="5.30" fill="#222" font-weight="normal" font-style="normal" text-anchor="start" textLength="2.95" lengthAdjust="spacingAndGlyphs" stroke="#222" stroke-width="0.06">2</text>
<text x="470.93" y="359.60" font-size="5.30" fill="#222" font-weight="normal" font-style="normal" text-anchor="start" textLength="2.95" lengthAdjust="spacingAndGlyphs" stroke="#222" stroke-width="0.06">2</text>
<text x="482.56" y="359.60" font-size="5.30" fill="#222" font-weight="normal" font-style="normal" text-anchor="start" textLength="2.95" lengthAdjust="spacingAndGlyphs" stroke="#222" stroke-width="0.06">2</text>
<text x="494.19" y="359.60" font-size="5.30" fill="#222" font-weight="normal" font-style="normal" text-anchor="start" textLength="2.95" lengthAdjust="spacingAndGlyphs" stroke="#222" stroke-width="0.06">2</text>
<text x="505.82" y="359.60" font-size="5.30" fill="#222" font-weight="normal" font-style="normal" text-anchor="start" textLength="2.95" lengthAdjust="spacingAndGlyphs" stroke="#222" stroke-width="0.06">2</text>
<text x="98.80" y="31.40" font-size="9.50" fill="#111" font-weight="normal" font-style="normal" text-anchor="start" textLength="59.50" lengthAdjust="spacingAndGlyphs" stroke="#111" stroke-width="0.1">Overall Survival</text>
<text x="269.80" y="32.10" font-size="8.10" fill="#1a1a1a" font-weight="normal" font-style="normal" text-anchor="start" textLength="64.50" lengthAdjust="spacingAndGlyphs" stroke="#1a1a1a" stroke-width="0.03">Relapse-free Survival</text>
<text x="446.80" y="31.80" font-size="7.90" fill="#1a1a1a" font-weight="normal" font-style="normal" text-anchor="start" textLength="56.20" lengthAdjust="spacingAndGlyphs" stroke="#1a1a1a" stroke-width="0.03">Event-free Survival</text>
<text x="106.00" y="215.30" font-size="7.40" fill="#111" font-weight="normal" font-style="normal" text-anchor="start" textLength="47.10" lengthAdjust="spacingAndGlyphs" stroke="#111" stroke-width="0.1">Overall Survival</text>
<text x="106.30" y="223.70" font-size="7.40" fill="#111" font-weight="normal" font-style="normal" text-anchor="start" textLength="45.60" lengthAdjust="spacingAndGlyphs" stroke="#111" stroke-width="0.1">ELN-2017 Fav.</text>
<text x="279.20" y="215.30" font-size="7.40" fill="#111" font-weight="normal" font-style="normal" text-anchor="start" textLength="47.60" lengthAdjust="spacingAndGlyphs" stroke="#111" stroke-width="0.1">Overall Survival</text>
<text x="279.50" y="223.70" font-size="7.40" fill="#111" font-weight="normal" font-style="normal" text-anchor="start" textLength="43.40" lengthAdjust="spacingAndGlyphs" stroke="#111" stroke-width="0.1">ELN-2017 Int.</text>
<text x="451.70" y="215.30" font-size="7.40" fill="#111" font-weight="normal" font-style="normal" text-anchor="start" textLength="47.10" lengthAdjust="spacingAndGlyphs" stroke="#111" stroke-width="0.1">Overall Survival</text>
<text x="452.00" y="223.70" font-size="7.40" fill="#111" font-weight="normal" font-style="normal" text-anchor="start" textLength="46.80" lengthAdjust="spacingAndGlyphs" stroke="#111" stroke-width="0.1">ELN-2017 Adv.</text>
<text x="45.40" y="107.50" font-size="7.7" fill="#111" stroke="#111" stroke-width="0.08" textLength="31.20" lengthAdjust="spacingAndGlyphs"><tspan font-style="italic">P</tspan>=0.0018</text>
<text x="221.20" y="107.50" font-size="7.7" fill="#111" stroke="#111" stroke-width="0.08" textLength="30.80" lengthAdjust="spacingAndGlyphs"><tspan font-style="italic">P</tspan>=0.0061</text>
<text x="390.50" y="107.50" font-size="7.7" fill="#111" stroke="#111" stroke-width="0.08" textLength="23.20" lengthAdjust="spacingAndGlyphs"><tspan font-style="italic">P</tspan>=0.13</text>
<text x="44.10" y="294.10" font-size="7.7" fill="#111" stroke="#111" stroke-width="0.08" textLength="26.90" lengthAdjust="spacingAndGlyphs"><tspan font-style="italic">P</tspan>&lt;0.001</text>
<text x="260.70" y="292.00" font-size="7.7" fill="#111" stroke="#111" stroke-width="0.08" textLength="27.50" lengthAdjust="spacingAndGlyphs"><tspan font-style="italic">P</tspan>=0.002</text>
<text x="449.20" y="270.60" font-size="7.7" fill="#111" stroke="#111" stroke-width="0.08" textLength="23.10" lengthAdjust="spacingAndGlyphs"><tspan font-style="italic">P</tspan>=0.28</text>
<polyline points="42.50,26.90 43.30,31.80 43.70,36.60 44.10,41.50 44.90,45.60 46.10,48.80 47.80,50.00 49.00,52.00 50.90,55.80 55.40,60.30 59.10,64.80 61.20,70.00 63.50,74.60 66.90,79.20 68.70,85.00 69.80,87.30 71.50,87.30 72.70,89.60 75.00,92.50 76.70,94.80 81.30,95.10 83.10,96.80 84.80,97.70 87.10,98.60 89.40,99.80 91.70,100.20 93.40,101.40 104.40,101.40 105.60,102.90 109.00,103.20 110.70,104.50 165.00,104.50" fill="none" stroke="#4b80b1" stroke-width="1.25" stroke-linejoin="miter"/>
<path d="M42.50,26.90 C43.42,28.75 46.03,34.07 48.00,38.00 C49.97,41.93 52.30,46.83 54.30,50.50 C56.30,54.17 58.57,57.87 60.00,60.00 C61.43,62.13 61.67,62.07 62.90,63.30 C64.13,64.53 65.43,65.72 67.40,67.40 C69.37,69.08 71.93,71.55 74.70,73.40 C77.47,75.25 81.22,77.23 84.00,78.50 C86.78,79.77 88.73,80.22 91.40,81.00 C94.07,81.78 96.68,82.48 100.00,83.20 C103.32,83.92 106.72,84.58 111.30,85.30 C115.88,86.02 122.08,86.80 127.50,87.50 C132.92,88.20 137.55,89.02 143.80,89.50 C150.05,89.98 161.47,90.25 165.00,90.40" fill="none" stroke="#2a2a2a" stroke-width="1.25"/>
<polyline points="42.50,26.90 44.10,29.70 44.50,32.60 45.70,35.80 47.80,39.50 49.00,41.50 52.80,41.70 53.40,43.50 53.90,45.60 55.10,48.00 55.50,49.60 56.70,50.50 59.10,51.30 59.50,52.10 59.90,55.10 63.80,55.10 64.40,58.80 65.90,61.80 73.30,62.60 73.60,67.20 81.70,67.80 82.30,70.00 91.40,70.00 91.40,75.10 108.70,75.10 108.70,78.10 158.80,78.10 158.80,81.00 165.00,81.00" fill="none" stroke="#d64a66" stroke-width="1.25" stroke-linejoin="miter"/>
<polyline points="216.30,26.80 218.80,33.00 221.50,40.00 224.80,47.30 226.40,54.60 227.20,61.10 228.00,66.00 230.40,70.10 232.10,74.10 234.50,78.20 236.10,79.80 240.20,81.50 243.50,83.90 245.10,86.30 247.50,88.80 253.70,90.30 259.40,92.80 265.10,95.20 270.80,98.10 310.30,98.10 310.50,101.70 338.00,101.70" fill="none" stroke="#4b80b1" stroke-width="1.25" stroke-linejoin="miter"/>
<path d="M216.30,26.80 C217.25,28.65 220.23,33.88 222.00,37.90 C223.77,41.92 225.00,47.10 226.90,50.90 C228.80,54.70 230.97,57.72 233.40,60.70 C235.83,63.68 238.52,66.40 241.50,68.80 C244.48,71.20 247.77,73.42 251.30,75.10 C254.83,76.78 258.75,77.75 262.70,78.90 C266.65,80.05 271.07,81.15 275.00,82.00 C278.93,82.85 281.72,83.35 286.30,84.00 C290.88,84.65 297.08,85.40 302.50,85.90 C307.92,86.40 312.88,86.73 318.80,87.00 C324.72,87.27 334.80,87.42 338.00,87.50" fill="none" stroke="#2a2a2a" stroke-width="1.25"/>
<polyline points="216.30,26.80 221.20,32.20 224.40,45.20 226.10,46.80 228.50,53.30 234.20,53.30 235.00,56.60 242.30,56.60 244.00,63.10 250.50,63.10 252.10,69.60 261.40,69.60 261.80,73.40 292.20,73.40 292.40,77.30 332.80,77.30 333.10,82.20 338.00,82.20" fill="none" stroke="#d64a66" stroke-width="1.25" stroke-linejoin="miter"/>
<polyline points="388.50,26.80 389.50,43.10 391.50,58.00 393.50,60.70 396.90,64.70 397.50,68.00 397.90,74.10 401.40,75.90 403.20,76.80 404.90,84.70 408.50,90.00 412.90,94.40 417.30,97.00 422.60,99.70 427.90,101.40 433.10,103.20 437.30,104.70 441.90,104.70 443.50,106.20 447.30,106.50 448.80,108.10 488.10,108.10 488.80,109.90 511.00,109.90" fill="none" stroke="#4b80b1" stroke-width="1.25" stroke-linejoin="miter"/>
<path d="M388.50,26.80 C388.67,29.73 389.00,39.88 389.50,44.40 C390.00,48.92 390.60,51.18 391.50,53.90 C392.40,56.62 393.77,58.43 394.90,60.70 C396.03,62.97 396.92,64.97 398.30,67.50 C399.68,70.03 401.22,73.33 403.20,75.90 C405.18,78.47 407.27,80.55 410.20,82.90 C413.13,85.25 417.27,88.23 420.80,90.00 C424.33,91.77 428.20,92.63 431.40,93.50 C434.60,94.37 436.83,94.57 440.00,95.20 C443.17,95.83 446.10,96.75 450.40,97.30 C454.70,97.85 460.67,98.17 465.80,98.50 C470.93,98.83 473.67,98.98 481.20,99.30 C488.73,99.62 506.03,100.22 511.00,100.40" fill="none" stroke="#2a2a2a" stroke-width="1.25"/>
<polyline points="388.50,26.80 388.80,44.40 390.10,44.40 390.80,59.30 395.60,59.30 396.90,62.00 398.80,68.80 401.40,69.70 404.00,74.10 404.90,75.00 419.00,75.00 420.80,79.80 427.90,80.30 429.60,84.70 438.40,85.50 438.40,88.10 468.80,88.10 469.20,90.40 508.30,90.40 508.50,94.50 511.00,94.50" fill="none" stroke="#d64a66" stroke-width="1.25" stroke-linejoin="miter"/>
<polyline points="42.50,209.90 43.30,218.00 44.10,227.00 46.60,231.00 50.60,231.80 52.30,237.50 56.30,239.10 58.80,241.60 60.40,247.30 63.60,252.20 66.10,255.00 67.70,258.30 68.50,264.80 72.60,265.60 73.40,266.70 82.30,267.20 84.00,269.60 85.60,271.30 88.00,272.10 88.80,274.50 92.10,275.30 92.90,276.20 104.80,276.20 105.40,278.80 110.20,278.80 110.80,281.40 164.50,281.40" fill="none" stroke="#4b80b1" stroke-width="1.25" stroke-linejoin="miter"/>
<path d="M42.50,209.90 C42.77,210.43 43.02,212.02 44.10,213.10 C45.18,214.18 47.63,215.32 49.00,216.40 C50.37,217.48 50.95,218.12 52.30,219.60 C53.65,221.08 54.93,223.53 57.10,225.30 C59.27,227.07 62.85,228.57 65.30,230.20 C67.75,231.83 69.63,233.62 71.80,235.10 C73.97,236.58 75.60,237.75 78.30,239.10 C81.00,240.45 84.38,241.97 88.00,243.20 C91.62,244.43 97.03,245.82 100.00,246.50 C102.97,247.18 103.02,246.98 105.80,247.30 C108.58,247.62 113.43,247.85 116.70,248.40 C119.97,248.95 123.05,249.95 125.40,250.60 C127.75,251.25 129.00,252.13 130.80,252.30 C132.60,252.47 133.85,251.53 136.20,251.60 C138.55,251.67 142.00,252.33 144.90,252.70 C147.80,253.07 150.33,253.43 153.60,253.80 C156.87,254.17 162.68,254.72 164.50,254.90" fill="none" stroke="#2a2a2a" stroke-width="1.25"/>
<polyline points="42.50,209.90 43.30,213.90 44.10,220.40 45.00,226.10 53.30,226.10 53.60,231.00 72.50,231.00 72.80,236.70 91.30,236.70 91.50,247.90 108.30,247.90 108.70,254.50 164.50,254.50" fill="none" stroke="#d64a66" stroke-width="1.25" stroke-linejoin="miter"/>
<polyline points="216.30,209.60 217.90,218.00 219.60,226.10 220.00,239.10 221.60,239.10 222.00,247.80 224.50,247.80 224.90,256.30 232.20,256.30 232.50,264.90 234.20,265.10 234.50,273.70 236.30,274.20 236.60,281.50 243.50,281.50 243.80,294.80 249.50,294.80 249.70,307.80" fill="none" stroke="#4b80b1" stroke-width="1.25" stroke-linejoin="miter"/>
<path d="M216.30,209.60 C216.83,210.75 218.33,213.93 219.50,216.50 C220.67,219.07 222.13,222.50 223.30,225.00 C224.47,227.50 225.25,229.15 226.50,231.50 C227.75,233.85 229.17,236.57 230.80,239.10 C232.43,241.63 234.48,244.53 236.30,246.70 C238.12,248.87 240.25,250.68 241.70,252.10 C243.15,253.52 243.55,254.03 245.00,255.20 C246.45,256.37 248.60,257.82 250.40,259.10 C252.20,260.38 253.98,261.70 255.80,262.90 C257.62,264.10 259.48,265.28 261.30,266.30 C263.12,267.32 264.90,268.20 266.70,269.00 C268.50,269.80 270.30,270.48 272.10,271.10 C273.90,271.72 275.35,272.22 277.50,272.70 C279.65,273.18 282.33,273.65 285.00,274.00 C287.67,274.35 290.85,274.52 293.50,274.80 C296.15,275.08 299.05,275.35 300.90,275.70 C302.75,276.05 303.55,276.43 304.60,276.90 C305.65,277.37 306.42,278.28 307.20,278.50 C307.98,278.72 306.83,278.15 309.30,278.20 C311.77,278.25 317.22,278.53 322.00,278.80 C326.78,279.07 335.33,279.63 338.00,279.80" fill="none" stroke="#2a2a2a" stroke-width="1.25"/>
<polyline points="216.30,209.60 220.40,209.60 220.70,218.80 222.00,218.80 222.20,229.30 227.60,229.30 228.10,238.60 255.30,238.60 255.60,249.20 332.60,249.20 332.80,263.40 338.00,263.40" fill="none" stroke="#d64a66" stroke-width="1.25" stroke-linejoin="miter"/>
<polyline points="389.30,209.60 390.10,219.60 390.50,229.40 393.40,229.40 393.70,239.10 396.60,239.10 397.00,239.50 399.60,239.50 399.90,248.90 401.20,248.90 401.50,258.50 402.70,258.50 402.70,268.80 405.30,268.80 405.60,278.60 412.90,278.60 413.20,288.70 418.10,288.70 418.40,298.10 420.70,298.10 421.00,307.80" fill="none" stroke="#4b80b1" stroke-width="1.25" stroke-linejoin="miter"/>
<path d="M389.30,209.60 C390.25,212.90 393.23,223.38 395.00,229.40 C396.77,235.42 398.82,241.43 399.90,245.70 C400.98,249.97 400.42,251.55 401.50,255.00 C402.58,258.45 404.77,263.15 406.40,266.40 C408.03,269.65 409.95,272.47 411.30,274.50 C412.65,276.53 412.88,277.38 414.50,278.60 C416.12,279.82 419.10,280.45 421.00,281.80 C422.90,283.15 424.27,285.27 425.90,286.70 C427.53,288.13 429.17,289.67 430.80,290.40 C432.43,291.13 434.17,291.10 435.70,291.10 C437.23,291.10 438.40,290.50 440.00,290.40 C441.60,290.30 443.13,289.93 445.30,290.50 C447.47,291.07 449.57,293.03 453.00,293.80 C456.43,294.57 460.75,294.67 465.90,295.10 C471.05,295.53 480.05,295.97 483.90,296.40 C487.75,296.83 486.00,297.48 489.00,297.70 C492.00,297.92 498.23,297.78 501.90,297.70 C505.57,297.62 509.48,297.28 511.00,297.20" fill="none" stroke="#2a2a2a" stroke-width="1.25"/>
<polyline points="389.30,209.60 390.10,209.60 390.50,219.30 399.40,219.30 399.90,229.40 403.10,229.40 403.50,238.80 406.10,238.80 406.40,248.60 410.50,248.60 410.90,268.00 412.60,268.00 412.90,278.60 419.40,278.60 419.70,288.10 511.00,288.10" fill="none" stroke="#d64a66" stroke-width="1.25" stroke-linejoin="miter"/></svg></body></html>
